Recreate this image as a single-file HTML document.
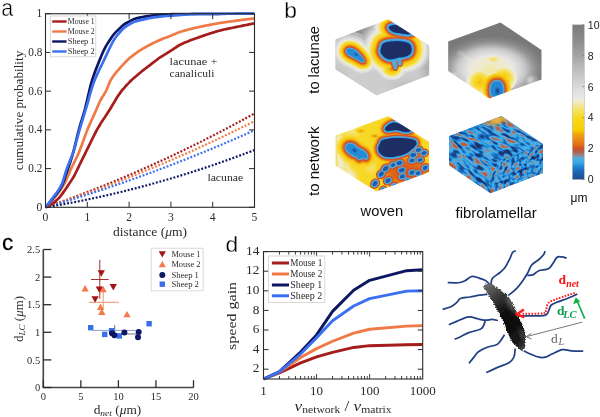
<!DOCTYPE html><html><head><meta charset="utf-8"><style>html,body{margin:0;padding:0;background:#fff;}svg{display:block;}</style></head><body>
<svg width="600" height="417" viewBox="0 0 600 417">
<rect width="600" height="417" fill="#fff"/>
<defs><filter id="soft" x="0" y="0" width="600" height="417" filterUnits="userSpaceOnUse"><feGaussianBlur stdDeviation="0.4"/></filter></defs>
<g filter="url(#soft)">
<clipPath id="clipA"><rect x="45.5" y="12.2" width="209" height="196.6"/></clipPath>
<g clip-path="url(#clipA)" fill="none" stroke-linecap="butt">
<path d="M45.5 207.3 C47.24 206.69 52.47 204.89 55.95 203.66 C59.43 202.43 62.92 201.18 66.4 199.91 C69.88 198.65 73.37 197.36 76.85 196.05 C80.33 194.75 83.82 193.43 87.3 192.08 C90.78 190.74 94.27 189.38 97.75 188 C101.23 186.62 104.72 185.22 108.2 183.81 C111.68 182.39 115.17 180.96 118.65 179.5 C122.13 178.05 125.62 176.58 129.1 175.08 C132.58 173.59 136.07 172.08 139.55 170.56 C143.03 169.03 146.52 167.48 150 165.92 C153.48 164.35 156.97 162.77 160.45 161.17 C163.93 159.57 167.42 157.94 170.9 156.31 C174.38 154.67 177.87 153.01 181.35 151.33 C184.83 149.66 188.32 147.96 191.8 146.25 C195.28 144.53 198.77 142.8 202.25 141.05 C205.73 139.3 209.22 137.53 212.7 135.75 C216.18 133.96 219.67 132.15 223.15 130.33 C226.63 128.5 230.12 126.66 233.6 124.8 C237.08 122.94 240.57 121.06 244.05 119.16 C247.53 117.26 252.76 114.36 254.5 113.4" stroke="#a51c1c" stroke-width="2.2" stroke-dasharray="1.9 1.75"/>
<path d="M45.5 207.3 C47.24 206.73 52.47 205.04 55.95 203.89 C59.43 202.74 62.92 201.57 66.4 200.38 C69.88 199.2 73.37 198 76.85 196.78 C80.33 195.57 83.82 194.34 87.3 193.09 C90.78 191.84 94.27 190.58 97.75 189.3 C101.23 188.02 104.72 186.73 108.2 185.42 C111.68 184.11 115.17 182.78 118.65 181.44 C122.13 180.1 125.62 178.74 129.1 177.37 C132.58 176 136.07 174.61 139.55 173.2 C143.03 171.8 146.52 170.38 150 168.94 C153.48 167.51 156.97 166.06 160.45 164.59 C163.93 163.12 167.42 161.64 170.9 160.14 C174.38 158.64 177.87 157.13 181.35 155.6 C184.83 154.07 188.32 152.52 191.8 150.96 C195.28 149.4 198.77 147.82 202.25 146.23 C205.73 144.63 209.22 143.02 212.7 141.4 C216.18 139.77 219.67 138.13 223.15 136.48 C226.63 134.82 230.12 133.15 233.6 131.46 C237.08 129.77 240.57 128.07 244.05 126.35 C247.53 124.63 252.76 122.02 254.5 121.15" stroke="#f07a45" stroke-width="2.2" stroke-dasharray="1.9 1.75"/>
<path d="M45.5 207.3 C47.24 206.79 52.47 205.27 55.95 204.24 C59.43 203.2 62.92 202.16 66.4 201.09 C69.88 200.03 73.37 198.96 76.85 197.87 C80.33 196.78 83.82 195.67 87.3 194.56 C90.78 193.44 94.27 192.31 97.75 191.16 C101.23 190.02 104.72 188.86 108.2 187.68 C111.68 186.51 115.17 185.33 118.65 184.13 C122.13 182.92 125.62 181.71 129.1 180.48 C132.58 179.25 136.07 178.01 139.55 176.76 C143.03 175.5 146.52 174.23 150 172.95 C153.48 171.66 156.97 170.37 160.45 169.06 C163.93 167.75 167.42 166.42 170.9 165.08 C174.38 163.74 177.87 162.39 181.35 161.02 C184.83 159.66 188.32 158.28 191.8 156.88 C195.28 155.49 198.77 154.08 202.25 152.66 C205.73 151.24 209.22 149.8 212.7 148.35 C216.18 146.9 219.67 145.44 223.15 143.96 C226.63 142.49 230.12 140.99 233.6 139.49 C237.08 137.99 240.57 136.47 244.05 134.93 C247.53 133.4 252.76 131.07 254.5 130.3" stroke="#3a6ff0" stroke-width="2.2" stroke-dasharray="1.9 1.75"/>
<path d="M45.5 207.3 C47.24 207.01 52.47 206.14 55.95 205.53 C59.43 204.93 62.92 204.3 66.4 203.65 C69.88 203.01 73.37 202.34 76.85 201.65 C80.33 200.97 83.82 200.27 87.3 199.54 C90.78 198.82 94.27 198.08 97.75 197.31 C101.23 196.55 104.72 195.77 108.2 194.97 C111.68 194.17 115.17 193.35 118.65 192.51 C122.13 191.67 125.62 190.82 129.1 189.94 C132.58 189.06 136.07 188.16 139.55 187.25 C143.03 186.33 146.52 185.4 150 184.44 C153.48 183.49 156.97 182.52 160.45 181.52 C163.93 180.53 167.42 179.52 170.9 178.49 C174.38 177.46 177.87 176.4 181.35 175.34 C184.83 174.27 188.32 173.18 191.8 172.07 C195.28 170.96 198.77 169.83 202.25 168.69 C205.73 167.54 209.22 166.37 212.7 165.19 C216.18 164 219.67 162.8 223.15 161.57 C226.63 160.35 230.12 159.11 233.6 157.85 C237.08 156.58 240.57 155.3 244.05 154 C247.53 152.7 252.76 150.7 254.5 150.04" stroke="#0c1660" stroke-width="2.2" stroke-dasharray="1.9 1.75"/>
<path d="M45.5 207.3 C45.85 207.15 46.89 206.75 47.59 206.42 C48.29 206.09 48.98 205.71 49.68 205.32 C50.38 204.93 51.07 204.51 51.77 204.06 C52.47 203.6 53.16 203.12 53.86 202.59 C54.56 202.06 55.25 201.49 55.95 200.87 C56.65 200.26 57.34 199.62 58.04 198.91 C58.74 198.2 59.43 197.44 60.13 196.6 C60.83 195.75 61.52 194.79 62.22 193.85 C62.92 192.9 63.61 191.92 64.31 190.94 C65.01 189.96 65.7 188.97 66.4 187.95 C67.1 186.93 67.79 185.87 68.49 184.81 C69.19 183.76 69.88 182.7 70.58 181.63 C71.28 180.56 71.97 179.53 72.67 178.39 C73.37 177.24 74.06 176.09 74.76 174.78 C75.46 173.47 76.15 171.96 76.85 170.52 C77.55 169.08 78.24 167.59 78.94 166.15 C79.64 164.72 80.33 163.31 81.03 161.89 C81.73 160.46 82.42 159.04 83.12 157.62 C83.82 156.2 84.51 154.78 85.21 153.37 C85.91 151.96 86.6 150.56 87.3 149.15 C88 147.73 88.69 146.31 89.39 144.88 C90.09 143.45 90.78 142 91.48 140.57 C92.18 139.14 92.87 137.71 93.57 136.32 C94.27 134.93 94.96 133.56 95.66 132.25 C96.36 130.93 97.05 129.67 97.75 128.45 C98.45 127.23 99.14 126.07 99.84 124.93 C100.54 123.79 101.23 122.69 101.93 121.6 C102.63 120.51 103.32 119.45 104.02 118.39 C104.72 117.33 105.41 116.28 106.11 115.23 C106.81 114.17 107.5 113.12 108.2 112.04 C108.9 110.96 109.59 109.89 110.29 108.76 C110.99 107.64 111.68 106.47 112.38 105.3 C113.08 104.13 113.77 102.91 114.47 101.73 C115.17 100.56 115.86 99.36 116.56 98.24 C117.26 97.11 117.95 95.99 118.65 94.96 C119.35 93.94 120.04 92.99 120.74 92.07 C121.44 91.16 122.13 90.31 122.83 89.47 C123.53 88.63 124.22 87.83 124.92 87.05 C125.62 86.27 126.31 85.52 127.01 84.78 C127.71 84.04 128.4 83.33 129.1 82.62 C129.8 81.92 130.49 81.23 131.19 80.55 C131.89 79.88 132.58 79.23 133.28 78.6 C133.98 77.96 134.67 77.35 135.37 76.74 C136.07 76.13 136.76 75.54 137.46 74.95 C138.16 74.36 138.85 73.78 139.55 73.2 C140.25 72.63 140.94 72.05 141.64 71.49 C142.34 70.93 143.03 70.38 143.73 69.83 C144.43 69.29 145.12 68.75 145.82 68.21 C146.52 67.68 147.21 67.15 147.91 66.62 C148.61 66.09 149.3 65.56 150 65.03 C150.7 64.5 151.39 63.96 152.09 63.42 C152.79 62.89 153.48 62.35 154.18 61.81 C154.88 61.28 155.57 60.75 156.27 60.23 C156.97 59.71 157.66 59.2 158.36 58.7 C159.06 58.2 159.75 57.71 160.45 57.24 C161.15 56.77 161.84 56.32 162.54 55.87 C163.24 55.42 163.93 54.99 164.63 54.56 C165.33 54.13 166.02 53.71 166.72 53.28 C167.42 52.85 168.11 52.43 168.81 52 C169.51 51.57 170.2 51.15 170.9 50.7 C171.6 50.25 172.29 49.79 172.99 49.32 C173.69 48.86 174.38 48.36 175.08 47.9 C175.78 47.43 176.47 46.95 177.17 46.51 C177.87 46.07 178.56 45.65 179.26 45.26 C179.96 44.88 180.65 44.54 181.35 44.2 C182.05 43.86 182.74 43.54 183.44 43.22 C184.14 42.91 184.83 42.6 185.53 42.31 C186.23 42.01 186.92 41.72 187.62 41.44 C188.32 41.16 189.01 40.89 189.71 40.62 C190.41 40.35 191.1 40.09 191.8 39.84 C192.5 39.58 193.19 39.33 193.89 39.07 C194.59 38.82 195.28 38.58 195.98 38.33 C196.68 38.08 197.37 37.84 198.07 37.6 C198.77 37.35 199.46 37.1 200.16 36.86 C200.86 36.61 201.55 36.37 202.25 36.12 C202.95 35.88 203.64 35.63 204.34 35.39 C205.04 35.15 205.73 34.91 206.43 34.67 C207.13 34.44 207.82 34.2 208.52 33.97 C209.22 33.74 209.91 33.51 210.61 33.28 C211.31 33.06 212 32.84 212.7 32.62 C213.4 32.41 214.09 32.19 214.79 31.99 C215.49 31.78 216.18 31.58 216.88 31.38 C217.58 31.18 218.27 30.99 218.97 30.81 C219.67 30.63 220.36 30.45 221.06 30.28 C221.76 30.1 222.45 29.94 223.15 29.77 C223.85 29.61 224.54 29.45 225.24 29.29 C225.94 29.14 226.63 28.99 227.33 28.84 C228.03 28.69 228.72 28.54 229.42 28.4 C230.12 28.25 230.81 28.11 231.51 27.97 C232.21 27.83 232.9 27.69 233.6 27.55 C234.3 27.41 234.99 27.27 235.69 27.13 C236.39 26.99 237.08 26.85 237.78 26.71 C238.48 26.57 239.17 26.43 239.87 26.28 C240.57 26.14 241.26 26 241.96 25.86 C242.66 25.71 243.35 25.57 244.05 25.43 C244.75 25.29 245.44 25.15 246.14 25.01 C246.84 24.87 247.53 24.74 248.23 24.6 C248.93 24.46 249.62 24.33 250.32 24.19 C251.02 24.05 251.71 23.92 252.41 23.78 C253.11 23.65 254.15 23.45 254.5 23.38" stroke="#a51c1c" stroke-width="2.7" stroke-linejoin="round"/>
<path d="M45.5 207.3 C45.85 206.97 46.89 206.01 47.59 205.32 C48.29 204.63 48.98 203.92 49.68 203.18 C50.38 202.44 51.07 201.67 51.77 200.89 C52.47 200.1 53.16 199.29 53.86 198.46 C54.56 197.63 55.25 196.79 55.95 195.93 C56.65 195.07 57.34 194.2 58.04 193.29 C58.74 192.38 59.43 191.46 60.13 190.47 C60.83 189.49 61.52 188.47 62.22 187.38 C62.92 186.29 63.61 185.21 64.31 183.92 C65.01 182.64 65.7 181.19 66.4 179.66 C67.1 178.12 67.79 176.34 68.49 174.71 C69.19 173.08 69.88 171.4 70.58 169.86 C71.28 168.33 71.97 166.92 72.67 165.49 C73.37 164.06 74.06 162.7 74.76 161.29 C75.46 159.87 76.15 158.48 76.85 157 C77.55 155.51 78.24 154.03 78.94 152.37 C79.64 150.72 80.33 148.95 81.03 147.1 C81.73 145.24 82.42 143.21 83.12 141.26 C83.82 139.31 84.51 137.27 85.21 135.39 C85.91 133.51 86.6 131.71 87.3 130 C88 128.28 88.69 126.69 89.39 125.1 C90.09 123.51 90.78 121.98 91.48 120.44 C92.18 118.89 92.87 117.39 93.57 115.84 C94.27 114.3 94.96 112.77 95.66 111.16 C96.36 109.55 97.05 107.8 97.75 106.19 C98.45 104.59 99.14 102.92 99.84 101.52 C100.54 100.11 101.23 98.94 101.93 97.76 C102.63 96.59 103.32 95.62 104.02 94.47 C104.72 93.33 105.41 92.31 106.11 90.89 C106.81 89.47 107.5 87.61 108.2 85.95 C108.9 84.29 109.59 82.35 110.29 80.94 C110.99 79.52 111.68 78.55 112.38 77.49 C113.08 76.42 113.77 75.47 114.47 74.55 C115.17 73.63 115.86 72.8 116.56 71.97 C117.26 71.13 117.95 70.36 118.65 69.56 C119.35 68.75 120.04 67.95 120.74 67.16 C121.44 66.37 122.13 65.58 122.83 64.82 C123.53 64.06 124.22 63.31 124.92 62.59 C125.62 61.86 126.31 61.16 127.01 60.49 C127.71 59.81 128.4 59.16 129.1 58.53 C129.8 57.91 130.49 57.32 131.19 56.75 C131.89 56.17 132.58 55.63 133.28 55.09 C133.98 54.56 134.67 54.05 135.37 53.55 C136.07 53.05 136.76 52.57 137.46 52.1 C138.16 51.63 138.85 51.18 139.55 50.73 C140.25 50.28 140.94 49.85 141.64 49.42 C142.34 49 143.03 48.59 143.73 48.19 C144.43 47.78 145.12 47.39 145.82 47.01 C146.52 46.62 147.21 46.25 147.91 45.88 C148.61 45.5 149.3 45.14 150 44.77 C150.7 44.41 151.39 44.05 152.09 43.69 C152.79 43.34 153.48 42.98 154.18 42.64 C154.88 42.29 155.57 41.95 156.27 41.62 C156.97 41.29 157.66 40.96 158.36 40.65 C159.06 40.33 159.75 40.03 160.45 39.73 C161.15 39.43 161.84 39.15 162.54 38.88 C163.24 38.6 163.93 38.33 164.63 38.07 C165.33 37.81 166.02 37.55 166.72 37.29 C167.42 37.03 168.11 36.77 168.81 36.51 C169.51 36.24 170.2 35.98 170.9 35.7 C171.6 35.42 172.29 35.13 172.99 34.83 C173.69 34.54 174.38 34.23 175.08 33.93 C175.78 33.64 176.47 33.33 177.17 33.05 C177.87 32.77 178.56 32.5 179.26 32.26 C179.96 32.01 180.65 31.79 181.35 31.57 C182.05 31.35 182.74 31.14 183.44 30.93 C184.14 30.72 184.83 30.52 185.53 30.33 C186.23 30.13 186.92 29.94 187.62 29.75 C188.32 29.57 189.01 29.39 189.71 29.21 C190.41 29.03 191.1 28.86 191.8 28.69 C192.5 28.51 193.19 28.35 193.89 28.18 C194.59 28.02 195.28 27.86 195.98 27.7 C196.68 27.54 197.37 27.38 198.07 27.23 C198.77 27.07 199.46 26.92 200.16 26.77 C200.86 26.62 201.55 26.47 202.25 26.32 C202.95 26.17 203.64 26.03 204.34 25.88 C205.04 25.74 205.73 25.6 206.43 25.46 C207.13 25.33 207.82 25.19 208.52 25.06 C209.22 24.92 209.91 24.79 210.61 24.66 C211.31 24.53 212 24.4 212.7 24.28 C213.4 24.15 214.09 24.03 214.79 23.91 C215.49 23.79 216.18 23.67 216.88 23.55 C217.58 23.43 218.27 23.32 218.97 23.2 C219.67 23.09 220.36 22.98 221.06 22.87 C221.76 22.76 222.45 22.65 223.15 22.54 C223.85 22.44 224.54 22.33 225.24 22.23 C225.94 22.13 226.63 22.03 227.33 21.93 C228.03 21.83 228.72 21.74 229.42 21.64 C230.12 21.54 230.81 21.45 231.51 21.35 C232.21 21.26 232.9 21.17 233.6 21.07 C234.3 20.98 234.99 20.89 235.69 20.79 C236.39 20.7 237.08 20.61 237.78 20.51 C238.48 20.42 239.17 20.33 239.87 20.23 C240.57 20.14 241.26 20.05 241.96 19.95 C242.66 19.86 243.35 19.77 244.05 19.68 C244.75 19.59 245.44 19.5 246.14 19.41 C246.84 19.32 247.53 19.23 248.23 19.14 C248.93 19.05 249.62 18.96 250.32 18.87 C251.02 18.78 251.71 18.69 252.41 18.61 C253.11 18.52 254.15 18.39 254.5 18.35" stroke="#f07a45" stroke-width="2.7" stroke-linejoin="round"/>
<path d="M45.5 207.3 C45.85 206.91 46.89 205.75 47.59 204.95 C48.29 204.14 48.98 203.32 49.68 202.48 C50.38 201.64 51.07 200.77 51.77 199.9 C52.47 199.03 53.16 198.12 53.86 197.25 C54.56 196.38 55.25 195.56 55.95 194.68 C56.65 193.8 57.34 192.93 58.04 191.96 C58.74 190.99 59.43 189.99 60.13 188.84 C60.83 187.68 61.52 186.56 62.22 185.03 C62.92 183.5 63.61 181.61 64.31 179.67 C65.01 177.72 65.7 175.44 66.4 173.37 C67.1 171.3 67.79 169.29 68.49 167.24 C69.19 165.18 69.88 163.18 70.58 161.04 C71.28 158.89 71.97 156.76 72.67 154.35 C73.37 151.95 74.06 149.37 74.76 146.61 C75.46 143.84 76.15 140.6 76.85 137.74 C77.55 134.89 78.24 132.05 78.94 129.49 C79.64 126.94 80.33 124.72 81.03 122.4 C81.73 120.08 82.42 117.95 83.12 115.59 C83.82 113.23 84.51 110.91 85.21 108.24 C85.91 105.57 86.6 102.53 87.3 99.57 C88 96.61 88.69 93.33 89.39 90.48 C90.09 87.63 90.78 84.9 91.48 82.48 C92.18 80.05 92.87 78 93.57 75.93 C94.27 73.87 94.96 71.95 95.66 70.07 C96.36 68.19 97.05 66.42 97.75 64.65 C98.45 62.89 99.14 61.16 99.84 59.47 C100.54 57.77 101.23 56.07 101.93 54.47 C102.63 52.87 103.32 51.3 104.02 49.88 C104.72 48.45 105.41 47.14 106.11 45.91 C106.81 44.69 107.5 43.62 108.2 42.53 C108.9 41.44 109.59 40.42 110.29 39.37 C110.99 38.32 111.68 37.2 112.38 36.22 C113.08 35.25 113.77 34.33 114.47 33.52 C115.17 32.71 115.86 32.04 116.56 31.36 C117.26 30.67 117.95 30.07 118.65 29.41 C119.35 28.75 120.04 28.07 120.74 27.4 C121.44 26.74 122.13 26 122.83 25.42 C123.53 24.84 124.22 24.37 124.92 23.92 C125.62 23.47 126.31 23.12 127.01 22.73 C127.71 22.35 128.4 22 129.1 21.61 C129.8 21.23 130.49 20.78 131.19 20.41 C131.89 20.05 132.58 19.69 133.28 19.41 C133.98 19.13 134.67 18.93 135.37 18.72 C136.07 18.51 136.76 18.33 137.46 18.15 C138.16 17.97 138.85 17.81 139.55 17.65 C140.25 17.5 140.94 17.36 141.64 17.21 C142.34 17.07 143.03 16.94 143.73 16.8 C144.43 16.67 145.12 16.54 145.82 16.41 C146.52 16.29 147.21 16.17 147.91 16.05 C148.61 15.94 149.3 15.83 150 15.74 C150.7 15.65 151.39 15.56 152.09 15.49 C152.79 15.41 153.48 15.35 154.18 15.28 C154.88 15.21 155.57 15.15 156.27 15.08 C156.97 15.02 157.66 14.96 158.36 14.9 C159.06 14.84 159.75 14.78 160.45 14.72 C161.15 14.67 161.84 14.62 162.54 14.57 C163.24 14.52 163.93 14.48 164.63 14.44 C165.33 14.4 166.02 14.36 166.72 14.33 C167.42 14.3 168.11 14.27 168.81 14.25 C169.51 14.23 170.2 14.22 170.9 14.21 C171.6 14.2 172.29 14.19 172.99 14.18 C173.69 14.17 174.38 14.16 175.08 14.15 C175.78 14.14 176.47 14.14 177.17 14.13 C177.87 14.12 178.56 14.11 179.26 14.1 C179.96 14.09 180.65 14.09 181.35 14.08 C182.05 14.07 182.74 14.06 183.44 14.05 C184.14 14.05 184.83 14.04 185.53 14.03 C186.23 14.02 186.92 14.02 187.62 14.01 C188.32 14 189.01 14 189.71 13.99 C190.41 13.98 191.1 13.98 191.8 13.97 C192.5 13.96 193.19 13.96 193.89 13.95 C194.59 13.94 195.28 13.94 195.98 13.93 C196.68 13.93 197.37 13.92 198.07 13.91 C198.77 13.91 199.46 13.9 200.16 13.9 C200.86 13.89 201.55 13.89 202.25 13.88 C202.95 13.88 203.64 13.87 204.34 13.87 C205.04 13.86 205.73 13.86 206.43 13.85 C207.13 13.85 207.82 13.84 208.52 13.84 C209.22 13.83 209.91 13.83 210.61 13.82 C211.31 13.82 212 13.82 212.7 13.81 C213.4 13.81 214.09 13.8 214.79 13.8 C215.49 13.8 216.18 13.79 216.88 13.79 C217.58 13.79 218.27 13.78 218.97 13.78 C219.67 13.78 220.36 13.77 221.06 13.77 C221.76 13.77 222.45 13.76 223.15 13.76 C223.85 13.76 224.54 13.76 225.24 13.75 C225.94 13.75 226.63 13.75 227.33 13.75 C228.03 13.74 228.72 13.74 229.42 13.74 C230.12 13.74 230.81 13.73 231.51 13.73 C232.21 13.73 232.9 13.73 233.6 13.73 C234.3 13.72 234.99 13.72 235.69 13.72 C236.39 13.72 237.08 13.72 237.78 13.72 C238.48 13.72 239.17 13.71 239.87 13.71 C240.57 13.71 241.26 13.71 241.96 13.71 C242.66 13.71 243.35 13.71 244.05 13.71 C244.75 13.71 245.44 13.7 246.14 13.7 C246.84 13.7 247.53 13.7 248.23 13.7 C248.93 13.7 249.62 13.7 250.32 13.7 C251.02 13.7 251.71 13.7 252.41 13.7 C253.11 13.7 254.15 13.7 254.5 13.7" stroke="#0c1660" stroke-width="2.7" stroke-linejoin="round"/>
<path d="M45.5 207.3 C45.85 206.87 46.89 205.58 47.59 204.69 C48.29 203.8 48.98 202.9 49.68 201.98 C50.38 201.06 51.07 200.11 51.77 199.16 C52.47 198.22 53.16 197.24 53.86 196.32 C54.56 195.39 55.25 194.53 55.95 193.6 C56.65 192.68 57.34 191.78 58.04 190.75 C58.74 189.72 59.43 188.68 60.13 187.43 C60.83 186.18 61.52 185.03 62.22 183.25 C62.92 181.48 63.61 178.99 64.31 176.77 C65.01 174.55 65.7 171.97 66.4 169.91 C67.1 167.85 67.79 166.18 68.49 164.41 C69.19 162.65 69.88 161.07 70.58 159.32 C71.28 157.56 71.97 155.87 72.67 153.86 C73.37 151.85 74.06 149.64 74.76 147.26 C75.46 144.89 76.15 142.15 76.85 139.59 C77.55 137.02 78.24 134.35 78.94 131.89 C79.64 129.43 80.33 127.14 81.03 124.82 C81.73 122.49 82.42 120.23 83.12 117.95 C83.82 115.66 84.51 113.42 85.21 111.1 C85.91 108.78 86.6 106.42 87.3 104 C88 101.58 88.69 99.01 89.39 96.57 C90.09 94.13 90.78 91.63 91.48 89.38 C92.18 87.13 92.87 84.98 93.57 83.04 C94.27 81.11 94.96 79.43 95.66 77.77 C96.36 76.11 97.05 74.6 97.75 73.09 C98.45 71.59 99.14 70.19 99.84 68.76 C100.54 67.33 101.23 65.95 101.93 64.51 C102.63 63.07 103.32 61.6 104.02 60.11 C104.72 58.62 105.41 57.08 106.11 55.59 C106.81 54.09 107.5 52.58 108.2 51.13 C108.9 49.67 109.59 48.26 110.29 46.85 C110.99 45.44 111.68 43.95 112.38 42.66 C113.08 41.36 113.77 40.15 114.47 39.08 C115.17 38.01 115.86 37.12 116.56 36.22 C117.26 35.32 117.95 34.52 118.65 33.7 C119.35 32.87 120.04 32.04 120.74 31.26 C121.44 30.47 122.13 29.65 122.83 28.98 C123.53 28.31 124.22 27.77 124.92 27.24 C125.62 26.72 126.31 26.29 127.01 25.85 C127.71 25.41 128.4 25.01 129.1 24.59 C129.8 24.17 130.49 23.71 131.19 23.33 C131.89 22.94 132.58 22.59 133.28 22.29 C133.98 22 134.67 21.78 135.37 21.56 C136.07 21.34 136.76 21.15 137.46 20.96 C138.16 20.77 138.85 20.6 139.55 20.43 C140.25 20.26 140.94 20.1 141.64 19.93 C142.34 19.76 143.03 19.59 143.73 19.42 C144.43 19.25 145.12 19.07 145.82 18.9 C146.52 18.73 147.21 18.56 147.91 18.4 C148.61 18.24 149.3 18.09 150 17.95 C150.7 17.82 151.39 17.69 152.09 17.58 C152.79 17.48 153.48 17.39 154.18 17.3 C154.88 17.21 155.57 17.12 156.27 17.04 C156.97 16.95 157.66 16.88 158.36 16.8 C159.06 16.72 159.75 16.65 160.45 16.58 C161.15 16.51 161.84 16.44 162.54 16.38 C163.24 16.31 163.93 16.25 164.63 16.19 C165.33 16.13 166.02 16.07 166.72 16.02 C167.42 15.96 168.11 15.9 168.81 15.85 C169.51 15.79 170.2 15.74 170.9 15.69 C171.6 15.63 172.29 15.58 172.99 15.53 C173.69 15.48 174.38 15.42 175.08 15.37 C175.78 15.32 176.47 15.26 177.17 15.21 C177.87 15.15 178.56 15.09 179.26 15.04 C179.96 14.98 180.65 14.92 181.35 14.86 C182.05 14.81 182.74 14.75 183.44 14.7 C184.14 14.64 184.83 14.59 185.53 14.54 C186.23 14.49 186.92 14.44 187.62 14.39 C188.32 14.35 189.01 14.3 189.71 14.26 C190.41 14.22 191.1 14.19 191.8 14.16 C192.5 14.13 193.19 14.1 193.89 14.08 C194.59 14.06 195.28 14.05 195.98 14.04 C196.68 14.03 197.37 14.02 198.07 14.01 C198.77 14.01 199.46 14 200.16 13.99 C200.86 13.98 201.55 13.97 202.25 13.97 C202.95 13.96 203.64 13.95 204.34 13.94 C205.04 13.94 205.73 13.93 206.43 13.92 C207.13 13.92 207.82 13.91 208.52 13.9 C209.22 13.9 209.91 13.89 210.61 13.89 C211.31 13.88 212 13.87 212.7 13.87 C213.4 13.86 214.09 13.86 214.79 13.85 C215.49 13.84 216.18 13.84 216.88 13.83 C217.58 13.83 218.27 13.82 218.97 13.82 C219.67 13.81 220.36 13.81 221.06 13.81 C221.76 13.8 222.45 13.8 223.15 13.79 C223.85 13.79 224.54 13.78 225.24 13.78 C225.94 13.78 226.63 13.77 227.33 13.77 C228.03 13.77 228.72 13.76 229.42 13.76 C230.12 13.75 230.81 13.75 231.51 13.75 C232.21 13.75 232.9 13.74 233.6 13.74 C234.3 13.74 234.99 13.73 235.69 13.73 C236.39 13.73 237.08 13.73 237.78 13.73 C238.48 13.72 239.17 13.72 239.87 13.72 C240.57 13.72 241.26 13.72 241.96 13.71 C242.66 13.71 243.35 13.71 244.05 13.71 C244.75 13.71 245.44 13.71 246.14 13.71 C246.84 13.71 247.53 13.7 248.23 13.7 C248.93 13.7 249.62 13.7 250.32 13.7 C251.02 13.7 251.71 13.7 252.41 13.7 C253.11 13.7 254.15 13.7 254.5 13.7" stroke="#3a6ff0" stroke-width="2.7" stroke-linejoin="round"/>
</g>
<rect x="45.5" y="13.7" width="209" height="193.6" fill="none" stroke="#2b2b2b" stroke-width="1.1"/>
<line x1="45.5" y1="207.3" x2="45.5" y2="201.8" stroke="#2b2b2b" stroke-width="1"/>
<line x1="45.5" y1="13.7" x2="45.5" y2="19.2" stroke="#2b2b2b" stroke-width="1"/>
<text x="45.5" y="220.8" font-size="11.6" text-anchor="middle" fill="#2b2b2b" font-family="'Liberation Serif', serif" >0</text>
<line x1="87.3" y1="207.3" x2="87.3" y2="201.8" stroke="#2b2b2b" stroke-width="1"/>
<line x1="87.3" y1="13.7" x2="87.3" y2="19.2" stroke="#2b2b2b" stroke-width="1"/>
<text x="87.3" y="220.8" font-size="11.6" text-anchor="middle" fill="#2b2b2b" font-family="'Liberation Serif', serif" >1</text>
<line x1="129.1" y1="207.3" x2="129.1" y2="201.8" stroke="#2b2b2b" stroke-width="1"/>
<line x1="129.1" y1="13.7" x2="129.1" y2="19.2" stroke="#2b2b2b" stroke-width="1"/>
<text x="129.1" y="220.8" font-size="11.6" text-anchor="middle" fill="#2b2b2b" font-family="'Liberation Serif', serif" >2</text>
<line x1="170.9" y1="207.3" x2="170.9" y2="201.8" stroke="#2b2b2b" stroke-width="1"/>
<line x1="170.9" y1="13.7" x2="170.9" y2="19.2" stroke="#2b2b2b" stroke-width="1"/>
<text x="170.9" y="220.8" font-size="11.6" text-anchor="middle" fill="#2b2b2b" font-family="'Liberation Serif', serif" >3</text>
<line x1="212.7" y1="207.3" x2="212.7" y2="201.8" stroke="#2b2b2b" stroke-width="1"/>
<line x1="212.7" y1="13.7" x2="212.7" y2="19.2" stroke="#2b2b2b" stroke-width="1"/>
<text x="212.7" y="220.8" font-size="11.6" text-anchor="middle" fill="#2b2b2b" font-family="'Liberation Serif', serif" >4</text>
<line x1="254.5" y1="207.3" x2="254.5" y2="201.8" stroke="#2b2b2b" stroke-width="1"/>
<line x1="254.5" y1="13.7" x2="254.5" y2="19.2" stroke="#2b2b2b" stroke-width="1"/>
<text x="254.5" y="220.8" font-size="11.6" text-anchor="middle" fill="#2b2b2b" font-family="'Liberation Serif', serif" >5</text>
<line x1="45.5" y1="207.3" x2="51" y2="207.3" stroke="#2b2b2b" stroke-width="1"/>
<line x1="254.5" y1="207.3" x2="249" y2="207.3" stroke="#2b2b2b" stroke-width="1"/>
<text x="42.3" y="210.8" font-size="11.6" text-anchor="end" fill="#2b2b2b" font-family="'Liberation Serif', serif" >0</text>
<line x1="45.5" y1="168.58" x2="51" y2="168.58" stroke="#2b2b2b" stroke-width="1"/>
<line x1="254.5" y1="168.58" x2="249" y2="168.58" stroke="#2b2b2b" stroke-width="1"/>
<text x="42.3" y="172.08" font-size="11.6" text-anchor="end" fill="#2b2b2b" font-family="'Liberation Serif', serif" textLength="14" lengthAdjust="spacingAndGlyphs" >0.2</text>
<line x1="45.5" y1="129.86" x2="51" y2="129.86" stroke="#2b2b2b" stroke-width="1"/>
<line x1="254.5" y1="129.86" x2="249" y2="129.86" stroke="#2b2b2b" stroke-width="1"/>
<text x="42.3" y="133.36" font-size="11.6" text-anchor="end" fill="#2b2b2b" font-family="'Liberation Serif', serif" textLength="14" lengthAdjust="spacingAndGlyphs" >0.4</text>
<line x1="45.5" y1="91.14" x2="51" y2="91.14" stroke="#2b2b2b" stroke-width="1"/>
<line x1="254.5" y1="91.14" x2="249" y2="91.14" stroke="#2b2b2b" stroke-width="1"/>
<text x="42.3" y="94.64" font-size="11.6" text-anchor="end" fill="#2b2b2b" font-family="'Liberation Serif', serif" textLength="14" lengthAdjust="spacingAndGlyphs" >0.6</text>
<line x1="45.5" y1="52.42" x2="51" y2="52.42" stroke="#2b2b2b" stroke-width="1"/>
<line x1="254.5" y1="52.42" x2="249" y2="52.42" stroke="#2b2b2b" stroke-width="1"/>
<text x="42.3" y="55.92" font-size="11.6" text-anchor="end" fill="#2b2b2b" font-family="'Liberation Serif', serif" textLength="14" lengthAdjust="spacingAndGlyphs" >0.8</text>
<line x1="45.5" y1="13.7" x2="51" y2="13.7" stroke="#2b2b2b" stroke-width="1"/>
<line x1="254.5" y1="13.7" x2="249" y2="13.7" stroke="#2b2b2b" stroke-width="1"/>
<text x="42.3" y="17.2" font-size="11.6" text-anchor="end" fill="#2b2b2b" font-family="'Liberation Serif', serif" >1</text>
<text x="150" y="235.5" font-size="13" text-anchor="middle" fill="#2b2b2b" font-family="'Liberation Serif', serif" textLength="74" lengthAdjust="spacingAndGlyphs" >distance (<tspan font-style="italic">μ</tspan>m)</text>
<g transform="translate(22.9 110.5) rotate(-90)"><text x="0" y="0" font-size="12.5" text-anchor="middle" fill="#2b2b2b" font-family="'Liberation Serif', serif" textLength="119.4" lengthAdjust="spacingAndGlyphs" >cumulative probability</text></g>
<text x="169.6" y="64.6" font-size="10.6" text-anchor="start" fill="#2b2b2b" font-family="'Liberation Serif', serif" textLength="47.8" lengthAdjust="spacingAndGlyphs" >lacunae +</text>
<text x="169.6" y="77.4" font-size="10.6" text-anchor="start" fill="#2b2b2b" font-family="'Liberation Serif', serif" textLength="44.9" lengthAdjust="spacingAndGlyphs" >canaliculi</text>
<text x="207.4" y="180.9" font-size="10.6" text-anchor="start" fill="#2b2b2b" font-family="'Liberation Serif', serif" textLength="35.9" lengthAdjust="spacingAndGlyphs" >lacunae</text>
<rect x="50.3" y="16" width="45.5" height="40.8" fill="#fff" stroke="#d0d0d0" stroke-width="0.8"/>
<line x1="52.2" y1="21.5" x2="66.6" y2="21.5" stroke="#a51c1c" stroke-width="2.4"/>
<text x="67.8" y="24.3" font-size="8.2" text-anchor="start" fill="#2b2b2b" font-family="'Liberation Serif', serif" textLength="26.8" lengthAdjust="spacingAndGlyphs" >Mouse 1</text>
<line x1="52.2" y1="31.5" x2="66.6" y2="31.5" stroke="#f07a45" stroke-width="2.4"/>
<text x="67.8" y="34.3" font-size="8.2" text-anchor="start" fill="#2b2b2b" font-family="'Liberation Serif', serif" textLength="26.8" lengthAdjust="spacingAndGlyphs" >Mouse 2</text>
<line x1="52.2" y1="41.5" x2="66.6" y2="41.5" stroke="#0c1660" stroke-width="2.4"/>
<text x="67.8" y="44.3" font-size="8.2" text-anchor="start" fill="#2b2b2b" font-family="'Liberation Serif', serif" textLength="26.8" lengthAdjust="spacingAndGlyphs" >Sheep 1</text>
<line x1="52.2" y1="51.5" x2="66.6" y2="51.5" stroke="#3a6ff0" stroke-width="2.4"/>
<text x="67.8" y="54.3" font-size="8.2" text-anchor="start" fill="#2b2b2b" font-family="'Liberation Serif', serif" textLength="26.8" lengthAdjust="spacingAndGlyphs" >Sheep 2</text>
<path d="M43.3 249.5 V387.5 H193.6" fill="none" stroke="#444" stroke-width="1.6"/>
<line x1="43.3" y1="387.5" x2="51.3" y2="387.5" stroke="#2b2b2b" stroke-width="1.3"/>
<text x="40.2" y="391.1" font-size="10.5" text-anchor="end" fill="#2b2b2b" font-family="'Liberation Serif', serif" >0</text>
<line x1="43.3" y1="359.9" x2="51.3" y2="359.9" stroke="#2b2b2b" stroke-width="1.3"/>
<text x="40.2" y="363.5" font-size="10.5" text-anchor="end" fill="#2b2b2b" font-family="'Liberation Serif', serif" >0.5</text>
<line x1="43.3" y1="332.3" x2="51.3" y2="332.3" stroke="#2b2b2b" stroke-width="1.3"/>
<text x="40.2" y="335.9" font-size="10.5" text-anchor="end" fill="#2b2b2b" font-family="'Liberation Serif', serif" >1</text>
<line x1="43.3" y1="304.7" x2="51.3" y2="304.7" stroke="#2b2b2b" stroke-width="1.3"/>
<text x="40.2" y="308.3" font-size="10.5" text-anchor="end" fill="#2b2b2b" font-family="'Liberation Serif', serif" >1.5</text>
<line x1="43.3" y1="277.1" x2="51.3" y2="277.1" stroke="#2b2b2b" stroke-width="1.3"/>
<text x="40.2" y="280.7" font-size="10.5" text-anchor="end" fill="#2b2b2b" font-family="'Liberation Serif', serif" >2</text>
<line x1="43.3" y1="249.5" x2="51.3" y2="249.5" stroke="#2b2b2b" stroke-width="1.3"/>
<text x="40.2" y="253.1" font-size="10.5" text-anchor="end" fill="#2b2b2b" font-family="'Liberation Serif', serif" >2.5</text>
<line x1="43.3" y1="387.5" x2="43.3" y2="380.2" stroke="#2b2b2b" stroke-width="1.3"/>
<text x="43.3" y="400.3" font-size="10.5" text-anchor="middle" fill="#2b2b2b" font-family="'Liberation Serif', serif" >0</text>
<line x1="80.85" y1="387.5" x2="80.85" y2="380.2" stroke="#2b2b2b" stroke-width="1.3"/>
<text x="80.85" y="400.3" font-size="10.5" text-anchor="middle" fill="#2b2b2b" font-family="'Liberation Serif', serif" >5</text>
<line x1="118.4" y1="387.5" x2="118.4" y2="380.2" stroke="#2b2b2b" stroke-width="1.3"/>
<text x="118.4" y="400.3" font-size="10.5" text-anchor="middle" fill="#2b2b2b" font-family="'Liberation Serif', serif" >10</text>
<line x1="155.95" y1="387.5" x2="155.95" y2="380.2" stroke="#2b2b2b" stroke-width="1.3"/>
<text x="155.95" y="400.3" font-size="10.5" text-anchor="middle" fill="#2b2b2b" font-family="'Liberation Serif', serif" >15</text>
<line x1="193.5" y1="387.5" x2="193.5" y2="380.2" stroke="#2b2b2b" stroke-width="1.3"/>
<text x="193.5" y="400.3" font-size="10.5" text-anchor="middle" fill="#2b2b2b" font-family="'Liberation Serif', serif" >20</text>
<text x="117.5" y="413.5" font-size="12" text-anchor="middle" fill="#2b2b2b" font-family="'Liberation Serif', serif" textLength="47.6" lengthAdjust="spacingAndGlyphs" >d<tspan font-size="8.5" font-style="italic" dy="2">net</tspan><tspan dy="-2"> (</tspan><tspan font-style="italic">μ</tspan>m)</text>
<g transform="translate(22.8 319) rotate(-90)"><text x="0" y="0" font-size="12" text-anchor="middle" fill="#2b2b2b" font-family="'Liberation Serif', serif" textLength="46" lengthAdjust="spacingAndGlyphs" >d<tspan font-size="8.5" font-style="italic" dy="2">LC</tspan><tspan dy="-2"> (</tspan><tspan font-style="italic">μ</tspan>m)</text></g>
<g stroke-width="1" fill="none">
<path d="M99.8 259.7 V298.7 M91 279.5 H108.6" stroke="#a03030"/>
<path d="M103.2 290 V309.6 M88.8 302.3 H119" stroke="#f0956a"/>
<path d="M92.7 330.4 H136" stroke="#8aa0c8"/>
<path d="M114.7 334 H137.3 M114.7 325 V334.7" stroke="#6a7090"/>
</g>
<rect x="88" y="325" width="5.4" height="5.4" fill="#3a6ee8"/>
<rect x="102" y="331.7" width="5.4" height="5.4" fill="#3a6ee8"/>
<rect x="108.9" y="328" width="5.4" height="5.4" fill="#3a6ee8"/>
<rect x="116.6" y="333.3" width="5.4" height="5.4" fill="#3a6ee8"/>
<rect x="146.4" y="321" width="5.4" height="5.4" fill="#3a6ee8"/>
<circle cx="112" cy="333.3" r="3" fill="#0c1464"/>
<circle cx="114.4" cy="335.3" r="3" fill="#0c1464"/>
<circle cx="124.4" cy="332.4" r="3" fill="#0c1464"/>
<circle cx="138.7" cy="332" r="3" fill="#0c1464"/>
<circle cx="138" cy="337.3" r="3" fill="#0c1464"/>
<polygon points="81.45,291.5 88.75,291.5 85.1,285.1" fill="#f47a48"/>
<polygon points="99.55,292.3 106.85,292.3 103.2,285.9" fill="#f47a48"/>
<polygon points="96.85,309.9 104.15,309.9 100.5,303.5" fill="#f47a48"/>
<polygon points="98.15,314.9 105.45,314.9 101.8,308.5" fill="#f47a48"/>
<polygon points="123.35,317.3 130.65,317.3 127,310.9" fill="#f47a48"/>
<polygon points="97.65,270.3 104.95,270.3 101.3,276.7" fill="#a01616"/>
<polygon points="109.65,284 116.95,284 113.3,290.4" fill="#a01616"/>
<polygon points="95.65,286.4 102.95,286.4 99.3,292.8" fill="#a01616"/>
<polygon points="91.45,296.3 98.75,296.3 95.1,302.7" fill="#a01616"/>
<rect x="151.2" y="248.2" width="51.9" height="42.6" fill="#fff" stroke="#d0d0d0" stroke-width="0.8"/>
<polygon points="158.7,251.3 165.9,251.3 162.3,257.5" fill="#a01616"/>
<polygon points="158.7,267.3 165.9,267.3 162.3,261.1" fill="#f47a48"/>
<circle cx="162.3" cy="275" r="3" fill="#0c1464"/>
<rect x="159.6" y="281.5" width="5.4" height="5.4" fill="#3a6ee8"/>
<text x="171.4" y="257.4" font-size="9" text-anchor="start" fill="#2b2b2b" font-family="'Liberation Serif', serif" textLength="29.1" lengthAdjust="spacingAndGlyphs" >Mouse 1</text>
<text x="171.4" y="267.2" font-size="9" text-anchor="start" fill="#2b2b2b" font-family="'Liberation Serif', serif" textLength="29.1" lengthAdjust="spacingAndGlyphs" >Mouse 2</text>
<text x="171.4" y="278" font-size="9" text-anchor="start" fill="#2b2b2b" font-family="'Liberation Serif', serif" textLength="27.5" lengthAdjust="spacingAndGlyphs" >Sheep 1</text>
<text x="171.4" y="287.2" font-size="9" text-anchor="start" fill="#2b2b2b" font-family="'Liberation Serif', serif" textLength="27.5" lengthAdjust="spacingAndGlyphs" >Sheep 2</text>
<clipPath id="clipD"><rect x="263.5" y="251.6" width="159.2" height="129.4"/></clipPath>
<g clip-path="url(#clipD)" fill="none" stroke-width="2.9" stroke-linejoin="round">
<path d="M263.5 379 L279.47 372.92 L300.59 362.83 L316.57 356.95 L332.54 352.34 L353.66 347.44 L369.63 345.68 L406.73 344.7 L422.7 344.5" stroke="#a51c1c"/>
<path d="M263.5 379 L279.47 372.14 L300.59 357.44 L316.57 348.62 L332.54 341.27 L353.66 333.14 L369.63 329.22 L406.73 326.08 L422.7 325.59" stroke="#f07a45"/>
<path d="M263.5 379 L279.47 371.65 L300.59 352.05 L316.57 334.9 L332.54 311.38 L353.66 290.31 L369.63 280.31 L406.73 270.71 L422.7 269.73" stroke="#0c1660"/>
<path d="M263.5 379 L279.47 371.94 L300.59 354.01 L316.57 337.84 L332.54 320.69 L353.66 305.99 L369.63 298.64 L406.73 291.09 L422.7 290.8" stroke="#3a6ff0"/>
</g>
<rect x="263.5" y="251.6" width="159.2" height="127.4" fill="none" stroke="#2b2b2b" stroke-width="1.1"/>
<line x1="263.5" y1="369.2" x2="268.5" y2="369.2" stroke="#2b2b2b" stroke-width="1"/>
<line x1="422.7" y1="369.2" x2="417.7" y2="369.2" stroke="#2b2b2b" stroke-width="1"/>
<text x="259.4" y="372.3" font-size="13.3" text-anchor="end" fill="#2b2b2b" font-family="'Liberation Serif', serif" >2</text>
<line x1="263.5" y1="349.6" x2="268.5" y2="349.6" stroke="#2b2b2b" stroke-width="1"/>
<line x1="422.7" y1="349.6" x2="417.7" y2="349.6" stroke="#2b2b2b" stroke-width="1"/>
<text x="259.4" y="352.7" font-size="13.3" text-anchor="end" fill="#2b2b2b" font-family="'Liberation Serif', serif" >4</text>
<line x1="263.5" y1="330" x2="268.5" y2="330" stroke="#2b2b2b" stroke-width="1"/>
<line x1="422.7" y1="330" x2="417.7" y2="330" stroke="#2b2b2b" stroke-width="1"/>
<text x="259.4" y="333.1" font-size="13.3" text-anchor="end" fill="#2b2b2b" font-family="'Liberation Serif', serif" >6</text>
<line x1="263.5" y1="310.4" x2="268.5" y2="310.4" stroke="#2b2b2b" stroke-width="1"/>
<line x1="422.7" y1="310.4" x2="417.7" y2="310.4" stroke="#2b2b2b" stroke-width="1"/>
<text x="259.4" y="313.5" font-size="13.3" text-anchor="end" fill="#2b2b2b" font-family="'Liberation Serif', serif" >8</text>
<line x1="263.5" y1="290.8" x2="268.5" y2="290.8" stroke="#2b2b2b" stroke-width="1"/>
<line x1="422.7" y1="290.8" x2="417.7" y2="290.8" stroke="#2b2b2b" stroke-width="1"/>
<text x="259.4" y="293.9" font-size="13.3" text-anchor="end" fill="#2b2b2b" font-family="'Liberation Serif', serif" >10</text>
<line x1="263.5" y1="271.2" x2="268.5" y2="271.2" stroke="#2b2b2b" stroke-width="1"/>
<line x1="422.7" y1="271.2" x2="417.7" y2="271.2" stroke="#2b2b2b" stroke-width="1"/>
<text x="259.4" y="274.3" font-size="13.3" text-anchor="end" fill="#2b2b2b" font-family="'Liberation Serif', serif" >12</text>
<line x1="263.5" y1="251.6" x2="268.5" y2="251.6" stroke="#2b2b2b" stroke-width="1"/>
<line x1="422.7" y1="251.6" x2="417.7" y2="251.6" stroke="#2b2b2b" stroke-width="1"/>
<text x="259.4" y="254.7" font-size="13.3" text-anchor="end" fill="#2b2b2b" font-family="'Liberation Serif', serif" >14</text>
<line x1="279.47" y1="379" x2="279.47" y2="376" stroke="#2b2b2b" stroke-width="0.9"/>
<line x1="279.47" y1="251.6" x2="279.47" y2="254.6" stroke="#2b2b2b" stroke-width="0.9"/>
<line x1="288.82" y1="379" x2="288.82" y2="376" stroke="#2b2b2b" stroke-width="0.9"/>
<line x1="288.82" y1="251.6" x2="288.82" y2="254.6" stroke="#2b2b2b" stroke-width="0.9"/>
<line x1="295.45" y1="379" x2="295.45" y2="376" stroke="#2b2b2b" stroke-width="0.9"/>
<line x1="295.45" y1="251.6" x2="295.45" y2="254.6" stroke="#2b2b2b" stroke-width="0.9"/>
<line x1="300.59" y1="379" x2="300.59" y2="376" stroke="#2b2b2b" stroke-width="0.9"/>
<line x1="300.59" y1="251.6" x2="300.59" y2="254.6" stroke="#2b2b2b" stroke-width="0.9"/>
<line x1="304.79" y1="379" x2="304.79" y2="376" stroke="#2b2b2b" stroke-width="0.9"/>
<line x1="304.79" y1="251.6" x2="304.79" y2="254.6" stroke="#2b2b2b" stroke-width="0.9"/>
<line x1="308.35" y1="379" x2="308.35" y2="376" stroke="#2b2b2b" stroke-width="0.9"/>
<line x1="308.35" y1="251.6" x2="308.35" y2="254.6" stroke="#2b2b2b" stroke-width="0.9"/>
<line x1="311.42" y1="379" x2="311.42" y2="376" stroke="#2b2b2b" stroke-width="0.9"/>
<line x1="311.42" y1="251.6" x2="311.42" y2="254.6" stroke="#2b2b2b" stroke-width="0.9"/>
<line x1="314.14" y1="379" x2="314.14" y2="376" stroke="#2b2b2b" stroke-width="0.9"/>
<line x1="314.14" y1="251.6" x2="314.14" y2="254.6" stroke="#2b2b2b" stroke-width="0.9"/>
<line x1="316.57" y1="379" x2="316.57" y2="374" stroke="#2b2b2b" stroke-width="0.9"/>
<line x1="316.57" y1="251.6" x2="316.57" y2="256.6" stroke="#2b2b2b" stroke-width="0.9"/>
<line x1="332.54" y1="379" x2="332.54" y2="376" stroke="#2b2b2b" stroke-width="0.9"/>
<line x1="332.54" y1="251.6" x2="332.54" y2="254.6" stroke="#2b2b2b" stroke-width="0.9"/>
<line x1="341.89" y1="379" x2="341.89" y2="376" stroke="#2b2b2b" stroke-width="0.9"/>
<line x1="341.89" y1="251.6" x2="341.89" y2="254.6" stroke="#2b2b2b" stroke-width="0.9"/>
<line x1="348.52" y1="379" x2="348.52" y2="376" stroke="#2b2b2b" stroke-width="0.9"/>
<line x1="348.52" y1="251.6" x2="348.52" y2="254.6" stroke="#2b2b2b" stroke-width="0.9"/>
<line x1="353.66" y1="379" x2="353.66" y2="376" stroke="#2b2b2b" stroke-width="0.9"/>
<line x1="353.66" y1="251.6" x2="353.66" y2="254.6" stroke="#2b2b2b" stroke-width="0.9"/>
<line x1="357.86" y1="379" x2="357.86" y2="376" stroke="#2b2b2b" stroke-width="0.9"/>
<line x1="357.86" y1="251.6" x2="357.86" y2="254.6" stroke="#2b2b2b" stroke-width="0.9"/>
<line x1="361.41" y1="379" x2="361.41" y2="376" stroke="#2b2b2b" stroke-width="0.9"/>
<line x1="361.41" y1="251.6" x2="361.41" y2="254.6" stroke="#2b2b2b" stroke-width="0.9"/>
<line x1="364.49" y1="379" x2="364.49" y2="376" stroke="#2b2b2b" stroke-width="0.9"/>
<line x1="364.49" y1="251.6" x2="364.49" y2="254.6" stroke="#2b2b2b" stroke-width="0.9"/>
<line x1="367.21" y1="379" x2="367.21" y2="376" stroke="#2b2b2b" stroke-width="0.9"/>
<line x1="367.21" y1="251.6" x2="367.21" y2="254.6" stroke="#2b2b2b" stroke-width="0.9"/>
<line x1="369.63" y1="379" x2="369.63" y2="374" stroke="#2b2b2b" stroke-width="0.9"/>
<line x1="369.63" y1="251.6" x2="369.63" y2="256.6" stroke="#2b2b2b" stroke-width="0.9"/>
<line x1="385.61" y1="379" x2="385.61" y2="376" stroke="#2b2b2b" stroke-width="0.9"/>
<line x1="385.61" y1="251.6" x2="385.61" y2="254.6" stroke="#2b2b2b" stroke-width="0.9"/>
<line x1="394.95" y1="379" x2="394.95" y2="376" stroke="#2b2b2b" stroke-width="0.9"/>
<line x1="394.95" y1="251.6" x2="394.95" y2="254.6" stroke="#2b2b2b" stroke-width="0.9"/>
<line x1="401.58" y1="379" x2="401.58" y2="376" stroke="#2b2b2b" stroke-width="0.9"/>
<line x1="401.58" y1="251.6" x2="401.58" y2="254.6" stroke="#2b2b2b" stroke-width="0.9"/>
<line x1="406.73" y1="379" x2="406.73" y2="376" stroke="#2b2b2b" stroke-width="0.9"/>
<line x1="406.73" y1="251.6" x2="406.73" y2="254.6" stroke="#2b2b2b" stroke-width="0.9"/>
<line x1="410.93" y1="379" x2="410.93" y2="376" stroke="#2b2b2b" stroke-width="0.9"/>
<line x1="410.93" y1="251.6" x2="410.93" y2="254.6" stroke="#2b2b2b" stroke-width="0.9"/>
<line x1="414.48" y1="379" x2="414.48" y2="376" stroke="#2b2b2b" stroke-width="0.9"/>
<line x1="414.48" y1="251.6" x2="414.48" y2="254.6" stroke="#2b2b2b" stroke-width="0.9"/>
<line x1="417.56" y1="379" x2="417.56" y2="376" stroke="#2b2b2b" stroke-width="0.9"/>
<line x1="417.56" y1="251.6" x2="417.56" y2="254.6" stroke="#2b2b2b" stroke-width="0.9"/>
<line x1="420.27" y1="379" x2="420.27" y2="376" stroke="#2b2b2b" stroke-width="0.9"/>
<line x1="420.27" y1="251.6" x2="420.27" y2="254.6" stroke="#2b2b2b" stroke-width="0.9"/>
<text x="263.5" y="394.6" font-size="13" text-anchor="middle" fill="#2b2b2b" font-family="'Liberation Serif', serif" >1</text>
<text x="316.57" y="394.6" font-size="13" text-anchor="middle" fill="#2b2b2b" font-family="'Liberation Serif', serif" >10</text>
<text x="369.63" y="394.6" font-size="13" text-anchor="middle" fill="#2b2b2b" font-family="'Liberation Serif', serif" >100</text>
<text x="422.7" y="394.6" font-size="13" text-anchor="middle" fill="#2b2b2b" font-family="'Liberation Serif', serif" >1000</text>
<text x="294.6" y="410.6" font-size="14" text-anchor="start" fill="#2b2b2b" font-family="'Liberation Serif', serif" textLength="97" lengthAdjust="spacingAndGlyphs" ><tspan font-style="italic">v</tspan><tspan font-size="9.5" dy="2.5">network</tspan><tspan dy="-2.5"> / </tspan><tspan font-style="italic">v</tspan><tspan font-size="9.5" dy="2.5">matrix</tspan></text>
<g transform="translate(235.8 315.9) rotate(-90)"><text x="0" y="0" font-size="12.4" text-anchor="middle" fill="#2b2b2b" font-family="'Liberation Serif', serif" textLength="68" lengthAdjust="spacingAndGlyphs" >speed gain</text></g>
<rect x="268.5" y="256" width="56.3" height="46.6" fill="#fff" stroke="#d0d0d0" stroke-width="0.8"/>
<line x1="271.9" y1="263" x2="289" y2="263" stroke="#a51c1c" stroke-width="3"/>
<text x="290.3" y="266.2" font-size="9.8" text-anchor="start" fill="#2b2b2b" font-family="'Liberation Serif', serif" textLength="32" lengthAdjust="spacingAndGlyphs" >Mouse 1</text>
<line x1="271.9" y1="274" x2="289" y2="274" stroke="#f07a45" stroke-width="3"/>
<text x="290.3" y="277.2" font-size="9.8" text-anchor="start" fill="#2b2b2b" font-family="'Liberation Serif', serif" textLength="32" lengthAdjust="spacingAndGlyphs" >Mouse 2</text>
<line x1="271.9" y1="285" x2="289" y2="285" stroke="#0c1660" stroke-width="3"/>
<text x="290.3" y="288.2" font-size="9.8" text-anchor="start" fill="#2b2b2b" font-family="'Liberation Serif', serif" textLength="32" lengthAdjust="spacingAndGlyphs" >Sheep 1</text>
<line x1="271.9" y1="295.8" x2="289" y2="295.8" stroke="#3a6ff0" stroke-width="3"/>
<text x="290.3" y="299" font-size="9.8" text-anchor="start" fill="#2b2b2b" font-family="'Liberation Serif', serif" textLength="32" lengthAdjust="spacingAndGlyphs" >Sheep 2</text>
<defs><filter id="cmapB" x="0" y="0" width="1" height="1" filterUnits="objectBoundingBox" color-interpolation-filters="sRGB"><feGaussianBlur stdDeviation="0.65"/><feComponentTransfer><feFuncR type="table" tableValues="0.1020 0.1085 0.1150 0.1255 0.1678 0.2745 0.4824 0.6977 0.8235 0.8873 0.9118 0.9363 0.9549 0.9652 0.9676 0.9701 0.9725 0.9658 0.9590 0.9513 0.9431 0.9193 0.8928 0.8699 0.8471 0.8216 0.7961 0.7706 0.7451 0.7176 0.6902 0.6627 0.6353 0.6118 0.5882 0.5647 0.5412 0.5235 0.5059 0.4882 0.4706"/><feFuncG type="table" tableValues="0.1725 0.2314 0.3425 0.4510 0.5757 0.6863 0.5980 0.3929 0.3137 0.4120 0.5162 0.5971 0.6882 0.7809 0.8029 0.8250 0.8471 0.8673 0.8876 0.9052 0.9216 0.9123 0.8928 0.8699 0.8471 0.8216 0.7961 0.7706 0.7451 0.7176 0.6902 0.6627 0.6353 0.6118 0.5882 0.5647 0.5412 0.5235 0.5059 0.4882 0.4706"/><feFuncB type="table" tableValues="0.3765 0.4712 0.6340 0.7647 0.8643 0.9059 0.6922 0.3212 0.1176 0.0941 0.0941 0.0755 0.0569 0.0539 0.0882 0.1225 0.1569 0.2786 0.4003 0.5837 0.7961 0.8777 0.8928 0.8699 0.8471 0.8216 0.7961 0.7706 0.7451 0.7176 0.6902 0.6627 0.6353 0.6118 0.5882 0.5647 0.5412 0.5235 0.5059 0.4882 0.4706"/><feFuncA type="identity"/></feComponentTransfer></filter><filter id="blur4" color-interpolation-filters="sRGB" x="-50%" y="-50%" width="200%" height="200%"><feGaussianBlur stdDeviation="5"/></filter><filter id="blur2" color-interpolation-filters="sRGB" x="-50%" y="-50%" width="200%" height="200%"><feGaussianBlur stdDeviation="2"/></filter><filter id="turbT" x="0" y="0" width="1" height="1" color-interpolation-filters="sRGB"><feTurbulence type="fractalNoise" baseFrequency="0.13 0.05" numOctaves="2" seed="3" result="t"/><feColorMatrix in="t" type="matrix" values="1 0 0 0 0  1 0 0 0 0  1 0 0 0 0  0 0 0 0 1" result="gr"/><feComponentTransfer><feFuncR type="table" tableValues="0.1046 0.1046 0.1046 0.1046 0.1046 0.1046 0.1046 0.1046 0.1046 0.1046 0.1046 0.1046 0.1054 0.1084 0.1114 0.1144 0.1174 0.1231 0.1292 0.1454 0.1851 0.2127 0.2525 0.2965 0.3498 0.4314 0.5129 0.5826 0.6484 0.7108 0.7500 0.7892 0.8261 0.8471 0.8680 0.8873 0.8951 0.9029 0.9108 0.9186 0.9265"/><feFuncG type="table" tableValues="0.1961 0.1961 0.1961 0.1961 0.1961 0.1961 0.1961 0.1961 0.1961 0.1961 0.1961 0.1961 0.2031 0.2302 0.2729 0.3301 0.3872 0.4333 0.4784 0.5329 0.6086 0.6613 0.6816 0.6910 0.6847 0.6314 0.5780 0.5132 0.4444 0.3814 0.3578 0.3343 0.3176 0.3490 0.3804 0.4120 0.4453 0.4787 0.5120 0.5441 0.5676"/><feFuncB type="table" tableValues="0.4144 0.4144 0.4144 0.4144 0.4144 0.4144 0.4144 0.4144 0.4144 0.4144 0.4144 0.4144 0.4258 0.4693 0.5333 0.6160 0.6987 0.7471 0.7922 0.8378 0.8847 0.9173 0.9137 0.8980 0.8604 0.7569 0.6533 0.5356 0.4131 0.2980 0.2353 0.1725 0.1167 0.1088 0.1010 0.0941 0.0941 0.0941 0.0941 0.0931 0.0853"/></feComponentTransfer></filter><filter id="turbL" x="0" y="0" width="1" height="1" color-interpolation-filters="sRGB"><feTurbulence type="fractalNoise" baseFrequency="0.05 0.07" numOctaves="2" seed="3" result="t"/><feColorMatrix in="t" type="matrix" values="1 0 0 0 0  1 0 0 0 0  1 0 0 0 0  0 0 0 0 1" result="gr"/><feComponentTransfer><feFuncR type="table" tableValues="0.1046 0.1046 0.1046 0.1046 0.1046 0.1046 0.1046 0.1046 0.1046 0.1046 0.1046 0.1046 0.1054 0.1084 0.1114 0.1144 0.1174 0.1231 0.1292 0.1454 0.1851 0.2127 0.2525 0.2965 0.3498 0.4314 0.5129 0.5826 0.6484 0.7108 0.7500 0.7892 0.8261 0.8471 0.8680 0.8873 0.8951 0.9029 0.9108 0.9186 0.9265"/><feFuncG type="table" tableValues="0.1961 0.1961 0.1961 0.1961 0.1961 0.1961 0.1961 0.1961 0.1961 0.1961 0.1961 0.1961 0.2031 0.2302 0.2729 0.3301 0.3872 0.4333 0.4784 0.5329 0.6086 0.6613 0.6816 0.6910 0.6847 0.6314 0.5780 0.5132 0.4444 0.3814 0.3578 0.3343 0.3176 0.3490 0.3804 0.4120 0.4453 0.4787 0.5120 0.5441 0.5676"/><feFuncB type="table" tableValues="0.4144 0.4144 0.4144 0.4144 0.4144 0.4144 0.4144 0.4144 0.4144 0.4144 0.4144 0.4144 0.4258 0.4693 0.5333 0.6160 0.6987 0.7471 0.7922 0.8378 0.8847 0.9173 0.9137 0.8980 0.8604 0.7569 0.6533 0.5356 0.4131 0.2980 0.2353 0.1725 0.1167 0.1088 0.1010 0.0941 0.0941 0.0941 0.0941 0.0931 0.0853"/></feComponentTransfer></filter><filter id="turbR" x="0" y="0" width="1" height="1" color-interpolation-filters="sRGB"><feTurbulence type="fractalNoise" baseFrequency="0.13 0.07" numOctaves="2" seed="3" result="t"/><feColorMatrix in="t" type="matrix" values="1 0 0 0 0  1 0 0 0 0  1 0 0 0 0  0 0 0 0 1" result="gr"/><feComponentTransfer><feFuncR type="table" tableValues="0.1046 0.1046 0.1046 0.1046 0.1046 0.1046 0.1046 0.1046 0.1046 0.1046 0.1046 0.1046 0.1054 0.1084 0.1114 0.1144 0.1174 0.1231 0.1292 0.1454 0.1851 0.2127 0.2525 0.2965 0.3498 0.4314 0.5129 0.5826 0.6484 0.7108 0.7500 0.7892 0.8261 0.8471 0.8680 0.8873 0.8951 0.9029 0.9108 0.9186 0.9265"/><feFuncG type="table" tableValues="0.1961 0.1961 0.1961 0.1961 0.1961 0.1961 0.1961 0.1961 0.1961 0.1961 0.1961 0.1961 0.2031 0.2302 0.2729 0.3301 0.3872 0.4333 0.4784 0.5329 0.6086 0.6613 0.6816 0.6910 0.6847 0.6314 0.5780 0.5132 0.4444 0.3814 0.3578 0.3343 0.3176 0.3490 0.3804 0.4120 0.4453 0.4787 0.5120 0.5441 0.5676"/><feFuncB type="table" tableValues="0.4144 0.4144 0.4144 0.4144 0.4144 0.4144 0.4144 0.4144 0.4144 0.4144 0.4144 0.4144 0.4258 0.4693 0.5333 0.6160 0.6987 0.7471 0.7922 0.8378 0.8847 0.9173 0.9137 0.8980 0.8604 0.7569 0.6533 0.5356 0.4131 0.2980 0.2353 0.1725 0.1167 0.1088 0.1010 0.0941 0.0941 0.0941 0.0941 0.0931 0.0853"/></feComponentTransfer></filter><clipPath id="hx0"><path d="M335.3 39.5 L388 19.3 L429.2 45.5 L429.2 75.2 L376.5 95.4 L335.3 69.2Z"/></clipPath><clipPath id="hx1"><path d="M335.6 135.5 L388.3 116.3 L429.1 142 L429.1 172.3 L376.4 191.5 L335.6 165.8Z"/></clipPath><clipPath id="hx2"><path d="M448.2 41.5 L500.5 22.6 L541.5 50 L541.5 79.5 L489.2 98.4 L448.2 71Z"/></clipPath><clipPath id="hx3"><path d="M449 136.2 L501.5 116 L543 144 L543 173 L490.5 193.2 L449 165.2Z"/></clipPath><radialGradient id="src1"><stop offset="0" stop-color="#080808"/><stop offset="1" stop-color="#181818"/></radialGradient><radialGradient id="src2"><stop offset="0" stop-color="#3b3b3b"/><stop offset="1" stop-color="#999999"/></radialGradient><radialGradient id="src3"><stop offset="0" stop-color="#424242"/><stop offset="1" stop-color="#6b6b6b"/></radialGradient><radialGradient id="src4"><stop offset="0" stop-color="#3d3d3d"/><stop offset="1" stop-color="#666666"/></radialGradient><radialGradient id="src5"><stop offset="0" stop-color="#080808"/><stop offset="1" stop-color="#181818"/></radialGradient><radialGradient id="rgF1" cx="0" cy="0" r="1" gradientUnits="userSpaceOnUse" gradientTransform="translate(491 70) scale(54 34)"><stop offset="0" stop-color="#7a7a7a"/><stop offset="0.4" stop-color="#858585"/><stop offset="0.62" stop-color="#a6a6a6"/><stop offset="0.82" stop-color="#dedede"/><stop offset="1" stop-color="#ffffff"/></radialGradient><radialGradient id="src6"><stop offset="0" stop-color="#707070"/><stop offset="1" stop-color="#858585"/></radialGradient><radialGradient id="src7"><stop offset="0" stop-color="#858585"/><stop offset="1" stop-color="#cccccc"/></radialGradient><radialGradient id="src8"><stop offset="0" stop-color="#858585"/><stop offset="1" stop-color="#cccccc"/></radialGradient><radialGradient id="src9"><stop offset="0" stop-color="#999999"/><stop offset="1" stop-color="#f2f2f2"/></radialGradient><radialGradient id="src10"><stop offset="0" stop-color="#999999"/><stop offset="1" stop-color="#f2f2f2"/></radialGradient><radialGradient id="src11"><stop offset="0" stop-color="#4f4f4f"/><stop offset="1" stop-color="#8a8a8a"/></radialGradient><radialGradient id="src12"><stop offset="0" stop-color="#4f4f4f"/><stop offset="1" stop-color="#8a8a8a"/></radialGradient><radialGradient id="src13"><stop offset="0" stop-color="#060606"/><stop offset="1" stop-color="#171717"/></radialGradient><linearGradient id="cbg" x1="0" y1="1" x2="0" y2="0"><stop offset="0" stop-color="rgb(31,74,143)"/><stop offset="0.05" stop-color="rgb(29,102,181)"/><stop offset="0.08" stop-color="rgb(32,128,208)"/><stop offset="0.11" stop-color="rgb(56,168,232)"/><stop offset="0.14" stop-color="rgb(80,176,224)"/><stop offset="0.15" stop-color="rgb(136,144,160)"/><stop offset="0.18" stop-color="rgb(176,96,80)"/><stop offset="0.2" stop-color="rgb(208,80,32)"/><stop offset="0.22" stop-color="rgb(224,104,24)"/><stop offset="0.26" stop-color="rgb(232,138,24)"/><stop offset="0.29" stop-color="rgb(240,160,16)"/><stop offset="0.32" stop-color="rgb(248,205,0)"/><stop offset="0.4" stop-color="rgb(248,216,32)"/><stop offset="0.46" stop-color="rgb(244,228,112)"/><stop offset="0.51" stop-color="rgb(240,236,216)"/><stop offset="0.54" stop-color="rgb(230,230,230)"/><stop offset="0.6" stop-color="rgb(218,218,218)"/><stop offset="0.7" stop-color="rgb(192,192,192)"/><stop offset="0.8" stop-color="rgb(164,164,164)"/><stop offset="0.9" stop-color="rgb(140,140,140)"/><stop offset="1" stop-color="rgb(122,122,122)"/></linearGradient></defs>
<g clip-path="url(#hx0)"><g filter="url(#cmapB)">
<rect x="320" y="10" width="125" height="100" fill="#a3a3a3"/>
<g filter="url(#blur4)">
<ellipse cx="356" cy="33" rx="18" ry="7" fill="#f5f5f5"/>
<ellipse cx="430" cy="66" rx="8" ry="16" fill="#c2c2c2"/>
<ellipse cx="336" cy="80" rx="8" ry="12" fill="#b8b8b8"/>
<ellipse cx="405" cy="88" rx="14" ry="8" fill="#b2b2b2"/>
</g>
<g style="mix-blend-mode:darken"><path d="M389.14 26.88 C389.79 25.84 393.56 24.86 396.16 24.93 C398.76 25 402.01 26.04 404.74 27.27 C407.47 28.5 412.02 31.17 412.54 32.34 C413.06 33.51 410.07 34.16 407.86 34.29 C405.65 34.42 401.88 33.64 399.28 33.12 C396.68 32.6 393.95 32.21 392.26 31.17 C390.57 30.13 388.49 27.92 389.14 26.88Z" fill="#ebebeb" stroke="#ebebeb" stroke-width="54.55" stroke-linejoin="round"/><path d="M389.14 26.88 C389.79 25.84 393.56 24.86 396.16 24.93 C398.76 25 402.01 26.04 404.74 27.27 C407.47 28.5 412.02 31.17 412.54 32.34 C413.06 33.51 410.07 34.16 407.86 34.29 C405.65 34.42 401.88 33.64 399.28 33.12 C396.68 32.6 393.95 32.21 392.26 31.17 C390.57 30.13 388.49 27.92 389.14 26.88Z" fill="#dedede" stroke="#dedede" stroke-width="49.09" stroke-linejoin="round"/><path d="M389.14 26.88 C389.79 25.84 393.56 24.86 396.16 24.93 C398.76 25 402.01 26.04 404.74 27.27 C407.47 28.5 412.02 31.17 412.54 32.34 C413.06 33.51 410.07 34.16 407.86 34.29 C405.65 34.42 401.88 33.64 399.28 33.12 C396.68 32.6 393.95 32.21 392.26 31.17 C390.57 30.13 388.49 27.92 389.14 26.88Z" fill="#d1d1d1" stroke="#d1d1d1" stroke-width="43.64" stroke-linejoin="round"/><path d="M389.14 26.88 C389.79 25.84 393.56 24.86 396.16 24.93 C398.76 25 402.01 26.04 404.74 27.27 C407.47 28.5 412.02 31.17 412.54 32.34 C413.06 33.51 410.07 34.16 407.86 34.29 C405.65 34.42 401.88 33.64 399.28 33.12 C396.68 32.6 393.95 32.21 392.26 31.17 C390.57 30.13 388.49 27.92 389.14 26.88Z" fill="#c4c4c4" stroke="#c4c4c4" stroke-width="40" stroke-linejoin="round"/><path d="M389.14 26.88 C389.79 25.84 393.56 24.86 396.16 24.93 C398.76 25 402.01 26.04 404.74 27.27 C407.47 28.5 412.02 31.17 412.54 32.34 C413.06 33.51 410.07 34.16 407.86 34.29 C405.65 34.42 401.88 33.64 399.28 33.12 C396.68 32.6 393.95 32.21 392.26 31.17 C390.57 30.13 388.49 27.92 389.14 26.88Z" fill="#b8b8b8" stroke="#b8b8b8" stroke-width="36.36" stroke-linejoin="round"/><path d="M389.14 26.88 C389.79 25.84 393.56 24.86 396.16 24.93 C398.76 25 402.01 26.04 404.74 27.27 C407.47 28.5 412.02 31.17 412.54 32.34 C413.06 33.51 410.07 34.16 407.86 34.29 C405.65 34.42 401.88 33.64 399.28 33.12 C396.68 32.6 393.95 32.21 392.26 31.17 C390.57 30.13 388.49 27.92 389.14 26.88Z" fill="#ababab" stroke="#ababab" stroke-width="33.64" stroke-linejoin="round"/><path d="M389.14 26.88 C389.79 25.84 393.56 24.86 396.16 24.93 C398.76 25 402.01 26.04 404.74 27.27 C407.47 28.5 412.02 31.17 412.54 32.34 C413.06 33.51 410.07 34.16 407.86 34.29 C405.65 34.42 401.88 33.64 399.28 33.12 C396.68 32.6 393.95 32.21 392.26 31.17 C390.57 30.13 388.49 27.92 389.14 26.88Z" fill="#9e9e9e" stroke="#9e9e9e" stroke-width="30.91" stroke-linejoin="round"/><path d="M389.14 26.88 C389.79 25.84 393.56 24.86 396.16 24.93 C398.76 25 402.01 26.04 404.74 27.27 C407.47 28.5 412.02 31.17 412.54 32.34 C413.06 33.51 410.07 34.16 407.86 34.29 C405.65 34.42 401.88 33.64 399.28 33.12 C396.68 32.6 393.95 32.21 392.26 31.17 C390.57 30.13 388.49 27.92 389.14 26.88Z" fill="#919191" stroke="#919191" stroke-width="28.18" stroke-linejoin="round"/><path d="M389.14 26.88 C389.79 25.84 393.56 24.86 396.16 24.93 C398.76 25 402.01 26.04 404.74 27.27 C407.47 28.5 412.02 31.17 412.54 32.34 C413.06 33.51 410.07 34.16 407.86 34.29 C405.65 34.42 401.88 33.64 399.28 33.12 C396.68 32.6 393.95 32.21 392.26 31.17 C390.57 30.13 388.49 27.92 389.14 26.88Z" fill="#858585" stroke="#858585" stroke-width="25.45" stroke-linejoin="round"/><path d="M389.14 26.88 C389.79 25.84 393.56 24.86 396.16 24.93 C398.76 25 402.01 26.04 404.74 27.27 C407.47 28.5 412.02 31.17 412.54 32.34 C413.06 33.51 410.07 34.16 407.86 34.29 C405.65 34.42 401.88 33.64 399.28 33.12 C396.68 32.6 393.95 32.21 392.26 31.17 C390.57 30.13 388.49 27.92 389.14 26.88Z" fill="#787878" stroke="#787878" stroke-width="21.82" stroke-linejoin="round"/><path d="M389.14 26.88 C389.79 25.84 393.56 24.86 396.16 24.93 C398.76 25 402.01 26.04 404.74 27.27 C407.47 28.5 412.02 31.17 412.54 32.34 C413.06 33.51 410.07 34.16 407.86 34.29 C405.65 34.42 401.88 33.64 399.28 33.12 C396.68 32.6 393.95 32.21 392.26 31.17 C390.57 30.13 388.49 27.92 389.14 26.88Z" fill="#6b6b6b" stroke="#6b6b6b" stroke-width="18.18" stroke-linejoin="round"/><path d="M389.14 26.88 C389.79 25.84 393.56 24.86 396.16 24.93 C398.76 25 402.01 26.04 404.74 27.27 C407.47 28.5 412.02 31.17 412.54 32.34 C413.06 33.51 410.07 34.16 407.86 34.29 C405.65 34.42 401.88 33.64 399.28 33.12 C396.68 32.6 393.95 32.21 392.26 31.17 C390.57 30.13 388.49 27.92 389.14 26.88Z" fill="#636363" stroke="#636363" stroke-width="16" stroke-linejoin="round"/><path d="M389.14 26.88 C389.79 25.84 393.56 24.86 396.16 24.93 C398.76 25 402.01 26.04 404.74 27.27 C407.47 28.5 412.02 31.17 412.54 32.34 C413.06 33.51 410.07 34.16 407.86 34.29 C405.65 34.42 401.88 33.64 399.28 33.12 C396.68 32.6 393.95 32.21 392.26 31.17 C390.57 30.13 388.49 27.92 389.14 26.88Z" fill="#5e5e5e" stroke="#5e5e5e" stroke-width="14.55" stroke-linejoin="round"/><path d="M389.14 26.88 C389.79 25.84 393.56 24.86 396.16 24.93 C398.76 25 402.01 26.04 404.74 27.27 C407.47 28.5 412.02 31.17 412.54 32.34 C413.06 33.51 410.07 34.16 407.86 34.29 C405.65 34.42 401.88 33.64 399.28 33.12 C396.68 32.6 393.95 32.21 392.26 31.17 C390.57 30.13 388.49 27.92 389.14 26.88Z" fill="#545454" stroke="#545454" stroke-width="12.73" stroke-linejoin="round"/><path d="M389.14 26.88 C389.79 25.84 393.56 24.86 396.16 24.93 C398.76 25 402.01 26.04 404.74 27.27 C407.47 28.5 412.02 31.17 412.54 32.34 C413.06 33.51 410.07 34.16 407.86 34.29 C405.65 34.42 401.88 33.64 399.28 33.12 C396.68 32.6 393.95 32.21 392.26 31.17 C390.57 30.13 388.49 27.92 389.14 26.88Z" fill="#4a4a4a" stroke="#4a4a4a" stroke-width="10.91" stroke-linejoin="round"/><path d="M389.14 26.88 C389.79 25.84 393.56 24.86 396.16 24.93 C398.76 25 402.01 26.04 404.74 27.27 C407.47 28.5 412.02 31.17 412.54 32.34 C413.06 33.51 410.07 34.16 407.86 34.29 C405.65 34.42 401.88 33.64 399.28 33.12 C396.68 32.6 393.95 32.21 392.26 31.17 C390.57 30.13 388.49 27.92 389.14 26.88Z" fill="#424242" stroke="#424242" stroke-width="9.45" stroke-linejoin="round"/><path d="M389.14 26.88 C389.79 25.84 393.56 24.86 396.16 24.93 C398.76 25 402.01 26.04 404.74 27.27 C407.47 28.5 412.02 31.17 412.54 32.34 C413.06 33.51 410.07 34.16 407.86 34.29 C405.65 34.42 401.88 33.64 399.28 33.12 C396.68 32.6 393.95 32.21 392.26 31.17 C390.57 30.13 388.49 27.92 389.14 26.88Z" fill="#3d3d3d" stroke="#3d3d3d" stroke-width="8.36" stroke-linejoin="round"/><path d="M389.14 26.88 C389.79 25.84 393.56 24.86 396.16 24.93 C398.76 25 402.01 26.04 404.74 27.27 C407.47 28.5 412.02 31.17 412.54 32.34 C413.06 33.51 410.07 34.16 407.86 34.29 C405.65 34.42 401.88 33.64 399.28 33.12 C396.68 32.6 393.95 32.21 392.26 31.17 C390.57 30.13 388.49 27.92 389.14 26.88Z" fill="#383838" stroke="#383838" stroke-width="7.27" stroke-linejoin="round"/><path d="M389.14 26.88 C389.79 25.84 393.56 24.86 396.16 24.93 C398.76 25 402.01 26.04 404.74 27.27 C407.47 28.5 412.02 31.17 412.54 32.34 C413.06 33.51 410.07 34.16 407.86 34.29 C405.65 34.42 401.88 33.64 399.28 33.12 C396.68 32.6 393.95 32.21 392.26 31.17 C390.57 30.13 388.49 27.92 389.14 26.88Z" fill="#343434" stroke="#343434" stroke-width="6.36" stroke-linejoin="round"/><path d="M389.14 26.88 C389.79 25.84 393.56 24.86 396.16 24.93 C398.76 25 402.01 26.04 404.74 27.27 C407.47 28.5 412.02 31.17 412.54 32.34 C413.06 33.51 410.07 34.16 407.86 34.29 C405.65 34.42 401.88 33.64 399.28 33.12 C396.68 32.6 393.95 32.21 392.26 31.17 C390.57 30.13 388.49 27.92 389.14 26.88Z" fill="#2f2f2f" stroke="#2f2f2f" stroke-width="5.45" stroke-linejoin="round"/><path d="M389.14 26.88 C389.79 25.84 393.56 24.86 396.16 24.93 C398.76 25 402.01 26.04 404.74 27.27 C407.47 28.5 412.02 31.17 412.54 32.34 C413.06 33.51 410.07 34.16 407.86 34.29 C405.65 34.42 401.88 33.64 399.28 33.12 C396.68 32.6 393.95 32.21 392.26 31.17 C390.57 30.13 388.49 27.92 389.14 26.88Z" fill="#292929" stroke="#292929" stroke-width="4.73" stroke-linejoin="round"/><path d="M389.14 26.88 C389.79 25.84 393.56 24.86 396.16 24.93 C398.76 25 402.01 26.04 404.74 27.27 C407.47 28.5 412.02 31.17 412.54 32.34 C413.06 33.51 410.07 34.16 407.86 34.29 C405.65 34.42 401.88 33.64 399.28 33.12 C396.68 32.6 393.95 32.21 392.26 31.17 C390.57 30.13 388.49 27.92 389.14 26.88Z" fill="#252525" stroke="#252525" stroke-width="4.18" stroke-linejoin="round"/><path d="M389.14 26.88 C389.79 25.84 393.56 24.86 396.16 24.93 C398.76 25 402.01 26.04 404.74 27.27 C407.47 28.5 412.02 31.17 412.54 32.34 C413.06 33.51 410.07 34.16 407.86 34.29 C405.65 34.42 401.88 33.64 399.28 33.12 C396.68 32.6 393.95 32.21 392.26 31.17 C390.57 30.13 388.49 27.92 389.14 26.88Z" fill="#222222" stroke="#222222" stroke-width="3.45" stroke-linejoin="round"/><path d="M389.14 26.88 C389.79 25.84 393.56 24.86 396.16 24.93 C398.76 25 402.01 26.04 404.74 27.27 C407.47 28.5 412.02 31.17 412.54 32.34 C413.06 33.51 410.07 34.16 407.86 34.29 C405.65 34.42 401.88 33.64 399.28 33.12 C396.68 32.6 393.95 32.21 392.26 31.17 C390.57 30.13 388.49 27.92 389.14 26.88Z" fill="#202020" stroke="#202020" stroke-width="2.73" stroke-linejoin="round"/><path d="M389.14 26.88 C389.79 25.84 393.56 24.86 396.16 24.93 C398.76 25 402.01 26.04 404.74 27.27 C407.47 28.5 412.02 31.17 412.54 32.34 C413.06 33.51 410.07 34.16 407.86 34.29 C405.65 34.42 401.88 33.64 399.28 33.12 C396.68 32.6 393.95 32.21 392.26 31.17 C390.57 30.13 388.49 27.92 389.14 26.88Z" fill="#1e1e1e" stroke="#1e1e1e" stroke-width="1.82" stroke-linejoin="round"/><path d="M389.14 26.88 C389.79 25.84 393.56 24.86 396.16 24.93 C398.76 25 402.01 26.04 404.74 27.27 C407.47 28.5 412.02 31.17 412.54 32.34 C413.06 33.51 410.07 34.16 407.86 34.29 C405.65 34.42 401.88 33.64 399.28 33.12 C396.68 32.6 393.95 32.21 392.26 31.17 C390.57 30.13 388.49 27.92 389.14 26.88Z" fill="#1d1d1d" stroke="#1d1d1d" stroke-width="1.09" stroke-linejoin="round"/><path d="M389.14 26.88 C389.79 25.84 393.56 24.86 396.16 24.93 C398.76 25 402.01 26.04 404.74 27.27 C407.47 28.5 412.02 31.17 412.54 32.34 C413.06 33.51 410.07 34.16 407.86 34.29 C405.65 34.42 401.88 33.64 399.28 33.12 C396.68 32.6 393.95 32.21 392.26 31.17 C390.57 30.13 388.49 27.92 389.14 26.88Z" fill="#1a1a1a" stroke="#1a1a1a" stroke-width="0.55" stroke-linejoin="round"/><path d="M389.14 26.88 C389.79 25.84 393.56 24.86 396.16 24.93 C398.76 25 402.01 26.04 404.74 27.27 C407.47 28.5 412.02 31.17 412.54 32.34 C413.06 33.51 410.07 34.16 407.86 34.29 C405.65 34.42 401.88 33.64 399.28 33.12 C396.68 32.6 393.95 32.21 392.26 31.17 C390.57 30.13 388.49 27.92 389.14 26.88Z" fill="#010101"/></g>
<g style="mix-blend-mode:darken"><path d="M383.17 43.68 C384.55 42.7 386.66 42.04 389.61 41.65 C392.55 41.27 397.55 41.04 400.83 41.38 C404.11 41.72 407.51 42.27 409.29 43.68 C411.07 45.09 411.5 48 411.5 49.84 C411.5 51.68 410.75 53.52 409.29 54.72 C407.84 55.91 404.62 56.56 402.76 57.02 C400.91 57.48 399.62 57.17 398.16 57.48 C396.7 57.79 395.4 58.58 394.02 58.86 C392.64 59.13 391.18 59.24 389.88 59.13 C388.58 59.03 387.35 58.8 386.2 58.21 C385.05 57.63 383.9 56.68 382.98 55.64 C382.06 54.6 380.96 53.31 380.68 51.96 C380.41 50.61 380.91 48.92 381.33 47.54 C381.74 46.16 381.79 44.66 383.17 43.68Z" fill="#ebebeb" stroke="#ebebeb" stroke-width="60" stroke-linejoin="round"/><path d="M383.17 43.68 C384.55 42.7 386.66 42.04 389.61 41.65 C392.55 41.27 397.55 41.04 400.83 41.38 C404.11 41.72 407.51 42.27 409.29 43.68 C411.07 45.09 411.5 48 411.5 49.84 C411.5 51.68 410.75 53.52 409.29 54.72 C407.84 55.91 404.62 56.56 402.76 57.02 C400.91 57.48 399.62 57.17 398.16 57.48 C396.7 57.79 395.4 58.58 394.02 58.86 C392.64 59.13 391.18 59.24 389.88 59.13 C388.58 59.03 387.35 58.8 386.2 58.21 C385.05 57.63 383.9 56.68 382.98 55.64 C382.06 54.6 380.96 53.31 380.68 51.96 C380.41 50.61 380.91 48.92 381.33 47.54 C381.74 46.16 381.79 44.66 383.17 43.68Z" fill="#dedede" stroke="#dedede" stroke-width="54" stroke-linejoin="round"/><path d="M383.17 43.68 C384.55 42.7 386.66 42.04 389.61 41.65 C392.55 41.27 397.55 41.04 400.83 41.38 C404.11 41.72 407.51 42.27 409.29 43.68 C411.07 45.09 411.5 48 411.5 49.84 C411.5 51.68 410.75 53.52 409.29 54.72 C407.84 55.91 404.62 56.56 402.76 57.02 C400.91 57.48 399.62 57.17 398.16 57.48 C396.7 57.79 395.4 58.58 394.02 58.86 C392.64 59.13 391.18 59.24 389.88 59.13 C388.58 59.03 387.35 58.8 386.2 58.21 C385.05 57.63 383.9 56.68 382.98 55.64 C382.06 54.6 380.96 53.31 380.68 51.96 C380.41 50.61 380.91 48.92 381.33 47.54 C381.74 46.16 381.79 44.66 383.17 43.68Z" fill="#d1d1d1" stroke="#d1d1d1" stroke-width="48" stroke-linejoin="round"/><path d="M383.17 43.68 C384.55 42.7 386.66 42.04 389.61 41.65 C392.55 41.27 397.55 41.04 400.83 41.38 C404.11 41.72 407.51 42.27 409.29 43.68 C411.07 45.09 411.5 48 411.5 49.84 C411.5 51.68 410.75 53.52 409.29 54.72 C407.84 55.91 404.62 56.56 402.76 57.02 C400.91 57.48 399.62 57.17 398.16 57.48 C396.7 57.79 395.4 58.58 394.02 58.86 C392.64 59.13 391.18 59.24 389.88 59.13 C388.58 59.03 387.35 58.8 386.2 58.21 C385.05 57.63 383.9 56.68 382.98 55.64 C382.06 54.6 380.96 53.31 380.68 51.96 C380.41 50.61 380.91 48.92 381.33 47.54 C381.74 46.16 381.79 44.66 383.17 43.68Z" fill="#c4c4c4" stroke="#c4c4c4" stroke-width="44" stroke-linejoin="round"/><path d="M383.17 43.68 C384.55 42.7 386.66 42.04 389.61 41.65 C392.55 41.27 397.55 41.04 400.83 41.38 C404.11 41.72 407.51 42.27 409.29 43.68 C411.07 45.09 411.5 48 411.5 49.84 C411.5 51.68 410.75 53.52 409.29 54.72 C407.84 55.91 404.62 56.56 402.76 57.02 C400.91 57.48 399.62 57.17 398.16 57.48 C396.7 57.79 395.4 58.58 394.02 58.86 C392.64 59.13 391.18 59.24 389.88 59.13 C388.58 59.03 387.35 58.8 386.2 58.21 C385.05 57.63 383.9 56.68 382.98 55.64 C382.06 54.6 380.96 53.31 380.68 51.96 C380.41 50.61 380.91 48.92 381.33 47.54 C381.74 46.16 381.79 44.66 383.17 43.68Z" fill="#b8b8b8" stroke="#b8b8b8" stroke-width="40" stroke-linejoin="round"/><path d="M383.17 43.68 C384.55 42.7 386.66 42.04 389.61 41.65 C392.55 41.27 397.55 41.04 400.83 41.38 C404.11 41.72 407.51 42.27 409.29 43.68 C411.07 45.09 411.5 48 411.5 49.84 C411.5 51.68 410.75 53.52 409.29 54.72 C407.84 55.91 404.62 56.56 402.76 57.02 C400.91 57.48 399.62 57.17 398.16 57.48 C396.7 57.79 395.4 58.58 394.02 58.86 C392.64 59.13 391.18 59.24 389.88 59.13 C388.58 59.03 387.35 58.8 386.2 58.21 C385.05 57.63 383.9 56.68 382.98 55.64 C382.06 54.6 380.96 53.31 380.68 51.96 C380.41 50.61 380.91 48.92 381.33 47.54 C381.74 46.16 381.79 44.66 383.17 43.68Z" fill="#ababab" stroke="#ababab" stroke-width="37" stroke-linejoin="round"/><path d="M383.17 43.68 C384.55 42.7 386.66 42.04 389.61 41.65 C392.55 41.27 397.55 41.04 400.83 41.38 C404.11 41.72 407.51 42.27 409.29 43.68 C411.07 45.09 411.5 48 411.5 49.84 C411.5 51.68 410.75 53.52 409.29 54.72 C407.84 55.91 404.62 56.56 402.76 57.02 C400.91 57.48 399.62 57.17 398.16 57.48 C396.7 57.79 395.4 58.58 394.02 58.86 C392.64 59.13 391.18 59.24 389.88 59.13 C388.58 59.03 387.35 58.8 386.2 58.21 C385.05 57.63 383.9 56.68 382.98 55.64 C382.06 54.6 380.96 53.31 380.68 51.96 C380.41 50.61 380.91 48.92 381.33 47.54 C381.74 46.16 381.79 44.66 383.17 43.68Z" fill="#9e9e9e" stroke="#9e9e9e" stroke-width="34" stroke-linejoin="round"/><path d="M383.17 43.68 C384.55 42.7 386.66 42.04 389.61 41.65 C392.55 41.27 397.55 41.04 400.83 41.38 C404.11 41.72 407.51 42.27 409.29 43.68 C411.07 45.09 411.5 48 411.5 49.84 C411.5 51.68 410.75 53.52 409.29 54.72 C407.84 55.91 404.62 56.56 402.76 57.02 C400.91 57.48 399.62 57.17 398.16 57.48 C396.7 57.79 395.4 58.58 394.02 58.86 C392.64 59.13 391.18 59.24 389.88 59.13 C388.58 59.03 387.35 58.8 386.2 58.21 C385.05 57.63 383.9 56.68 382.98 55.64 C382.06 54.6 380.96 53.31 380.68 51.96 C380.41 50.61 380.91 48.92 381.33 47.54 C381.74 46.16 381.79 44.66 383.17 43.68Z" fill="#919191" stroke="#919191" stroke-width="31" stroke-linejoin="round"/><path d="M383.17 43.68 C384.55 42.7 386.66 42.04 389.61 41.65 C392.55 41.27 397.55 41.04 400.83 41.38 C404.11 41.72 407.51 42.27 409.29 43.68 C411.07 45.09 411.5 48 411.5 49.84 C411.5 51.68 410.75 53.52 409.29 54.72 C407.84 55.91 404.62 56.56 402.76 57.02 C400.91 57.48 399.62 57.17 398.16 57.48 C396.7 57.79 395.4 58.58 394.02 58.86 C392.64 59.13 391.18 59.24 389.88 59.13 C388.58 59.03 387.35 58.8 386.2 58.21 C385.05 57.63 383.9 56.68 382.98 55.64 C382.06 54.6 380.96 53.31 380.68 51.96 C380.41 50.61 380.91 48.92 381.33 47.54 C381.74 46.16 381.79 44.66 383.17 43.68Z" fill="#858585" stroke="#858585" stroke-width="28" stroke-linejoin="round"/><path d="M383.17 43.68 C384.55 42.7 386.66 42.04 389.61 41.65 C392.55 41.27 397.55 41.04 400.83 41.38 C404.11 41.72 407.51 42.27 409.29 43.68 C411.07 45.09 411.5 48 411.5 49.84 C411.5 51.68 410.75 53.52 409.29 54.72 C407.84 55.91 404.62 56.56 402.76 57.02 C400.91 57.48 399.62 57.17 398.16 57.48 C396.7 57.79 395.4 58.58 394.02 58.86 C392.64 59.13 391.18 59.24 389.88 59.13 C388.58 59.03 387.35 58.8 386.2 58.21 C385.05 57.63 383.9 56.68 382.98 55.64 C382.06 54.6 380.96 53.31 380.68 51.96 C380.41 50.61 380.91 48.92 381.33 47.54 C381.74 46.16 381.79 44.66 383.17 43.68Z" fill="#787878" stroke="#787878" stroke-width="24" stroke-linejoin="round"/><path d="M383.17 43.68 C384.55 42.7 386.66 42.04 389.61 41.65 C392.55 41.27 397.55 41.04 400.83 41.38 C404.11 41.72 407.51 42.27 409.29 43.68 C411.07 45.09 411.5 48 411.5 49.84 C411.5 51.68 410.75 53.52 409.29 54.72 C407.84 55.91 404.62 56.56 402.76 57.02 C400.91 57.48 399.62 57.17 398.16 57.48 C396.7 57.79 395.4 58.58 394.02 58.86 C392.64 59.13 391.18 59.24 389.88 59.13 C388.58 59.03 387.35 58.8 386.2 58.21 C385.05 57.63 383.9 56.68 382.98 55.64 C382.06 54.6 380.96 53.31 380.68 51.96 C380.41 50.61 380.91 48.92 381.33 47.54 C381.74 46.16 381.79 44.66 383.17 43.68Z" fill="#6b6b6b" stroke="#6b6b6b" stroke-width="20" stroke-linejoin="round"/><path d="M383.17 43.68 C384.55 42.7 386.66 42.04 389.61 41.65 C392.55 41.27 397.55 41.04 400.83 41.38 C404.11 41.72 407.51 42.27 409.29 43.68 C411.07 45.09 411.5 48 411.5 49.84 C411.5 51.68 410.75 53.52 409.29 54.72 C407.84 55.91 404.62 56.56 402.76 57.02 C400.91 57.48 399.62 57.17 398.16 57.48 C396.7 57.79 395.4 58.58 394.02 58.86 C392.64 59.13 391.18 59.24 389.88 59.13 C388.58 59.03 387.35 58.8 386.2 58.21 C385.05 57.63 383.9 56.68 382.98 55.64 C382.06 54.6 380.96 53.31 380.68 51.96 C380.41 50.61 380.91 48.92 381.33 47.54 C381.74 46.16 381.79 44.66 383.17 43.68Z" fill="#636363" stroke="#636363" stroke-width="17.6" stroke-linejoin="round"/><path d="M383.17 43.68 C384.55 42.7 386.66 42.04 389.61 41.65 C392.55 41.27 397.55 41.04 400.83 41.38 C404.11 41.72 407.51 42.27 409.29 43.68 C411.07 45.09 411.5 48 411.5 49.84 C411.5 51.68 410.75 53.52 409.29 54.72 C407.84 55.91 404.62 56.56 402.76 57.02 C400.91 57.48 399.62 57.17 398.16 57.48 C396.7 57.79 395.4 58.58 394.02 58.86 C392.64 59.13 391.18 59.24 389.88 59.13 C388.58 59.03 387.35 58.8 386.2 58.21 C385.05 57.63 383.9 56.68 382.98 55.64 C382.06 54.6 380.96 53.31 380.68 51.96 C380.41 50.61 380.91 48.92 381.33 47.54 C381.74 46.16 381.79 44.66 383.17 43.68Z" fill="#5e5e5e" stroke="#5e5e5e" stroke-width="16" stroke-linejoin="round"/><path d="M383.17 43.68 C384.55 42.7 386.66 42.04 389.61 41.65 C392.55 41.27 397.55 41.04 400.83 41.38 C404.11 41.72 407.51 42.27 409.29 43.68 C411.07 45.09 411.5 48 411.5 49.84 C411.5 51.68 410.75 53.52 409.29 54.72 C407.84 55.91 404.62 56.56 402.76 57.02 C400.91 57.48 399.62 57.17 398.16 57.48 C396.7 57.79 395.4 58.58 394.02 58.86 C392.64 59.13 391.18 59.24 389.88 59.13 C388.58 59.03 387.35 58.8 386.2 58.21 C385.05 57.63 383.9 56.68 382.98 55.64 C382.06 54.6 380.96 53.31 380.68 51.96 C380.41 50.61 380.91 48.92 381.33 47.54 C381.74 46.16 381.79 44.66 383.17 43.68Z" fill="#545454" stroke="#545454" stroke-width="14" stroke-linejoin="round"/><path d="M383.17 43.68 C384.55 42.7 386.66 42.04 389.61 41.65 C392.55 41.27 397.55 41.04 400.83 41.38 C404.11 41.72 407.51 42.27 409.29 43.68 C411.07 45.09 411.5 48 411.5 49.84 C411.5 51.68 410.75 53.52 409.29 54.72 C407.84 55.91 404.62 56.56 402.76 57.02 C400.91 57.48 399.62 57.17 398.16 57.48 C396.7 57.79 395.4 58.58 394.02 58.86 C392.64 59.13 391.18 59.24 389.88 59.13 C388.58 59.03 387.35 58.8 386.2 58.21 C385.05 57.63 383.9 56.68 382.98 55.64 C382.06 54.6 380.96 53.31 380.68 51.96 C380.41 50.61 380.91 48.92 381.33 47.54 C381.74 46.16 381.79 44.66 383.17 43.68Z" fill="#4a4a4a" stroke="#4a4a4a" stroke-width="12" stroke-linejoin="round"/><path d="M383.17 43.68 C384.55 42.7 386.66 42.04 389.61 41.65 C392.55 41.27 397.55 41.04 400.83 41.38 C404.11 41.72 407.51 42.27 409.29 43.68 C411.07 45.09 411.5 48 411.5 49.84 C411.5 51.68 410.75 53.52 409.29 54.72 C407.84 55.91 404.62 56.56 402.76 57.02 C400.91 57.48 399.62 57.17 398.16 57.48 C396.7 57.79 395.4 58.58 394.02 58.86 C392.64 59.13 391.18 59.24 389.88 59.13 C388.58 59.03 387.35 58.8 386.2 58.21 C385.05 57.63 383.9 56.68 382.98 55.64 C382.06 54.6 380.96 53.31 380.68 51.96 C380.41 50.61 380.91 48.92 381.33 47.54 C381.74 46.16 381.79 44.66 383.17 43.68Z" fill="#424242" stroke="#424242" stroke-width="10.4" stroke-linejoin="round"/><path d="M383.17 43.68 C384.55 42.7 386.66 42.04 389.61 41.65 C392.55 41.27 397.55 41.04 400.83 41.38 C404.11 41.72 407.51 42.27 409.29 43.68 C411.07 45.09 411.5 48 411.5 49.84 C411.5 51.68 410.75 53.52 409.29 54.72 C407.84 55.91 404.62 56.56 402.76 57.02 C400.91 57.48 399.62 57.17 398.16 57.48 C396.7 57.79 395.4 58.58 394.02 58.86 C392.64 59.13 391.18 59.24 389.88 59.13 C388.58 59.03 387.35 58.8 386.2 58.21 C385.05 57.63 383.9 56.68 382.98 55.64 C382.06 54.6 380.96 53.31 380.68 51.96 C380.41 50.61 380.91 48.92 381.33 47.54 C381.74 46.16 381.79 44.66 383.17 43.68Z" fill="#3d3d3d" stroke="#3d3d3d" stroke-width="9.2" stroke-linejoin="round"/><path d="M383.17 43.68 C384.55 42.7 386.66 42.04 389.61 41.65 C392.55 41.27 397.55 41.04 400.83 41.38 C404.11 41.72 407.51 42.27 409.29 43.68 C411.07 45.09 411.5 48 411.5 49.84 C411.5 51.68 410.75 53.52 409.29 54.72 C407.84 55.91 404.62 56.56 402.76 57.02 C400.91 57.48 399.62 57.17 398.16 57.48 C396.7 57.79 395.4 58.58 394.02 58.86 C392.64 59.13 391.18 59.24 389.88 59.13 C388.58 59.03 387.35 58.8 386.2 58.21 C385.05 57.63 383.9 56.68 382.98 55.64 C382.06 54.6 380.96 53.31 380.68 51.96 C380.41 50.61 380.91 48.92 381.33 47.54 C381.74 46.16 381.79 44.66 383.17 43.68Z" fill="#383838" stroke="#383838" stroke-width="8" stroke-linejoin="round"/><path d="M383.17 43.68 C384.55 42.7 386.66 42.04 389.61 41.65 C392.55 41.27 397.55 41.04 400.83 41.38 C404.11 41.72 407.51 42.27 409.29 43.68 C411.07 45.09 411.5 48 411.5 49.84 C411.5 51.68 410.75 53.52 409.29 54.72 C407.84 55.91 404.62 56.56 402.76 57.02 C400.91 57.48 399.62 57.17 398.16 57.48 C396.7 57.79 395.4 58.58 394.02 58.86 C392.64 59.13 391.18 59.24 389.88 59.13 C388.58 59.03 387.35 58.8 386.2 58.21 C385.05 57.63 383.9 56.68 382.98 55.64 C382.06 54.6 380.96 53.31 380.68 51.96 C380.41 50.61 380.91 48.92 381.33 47.54 C381.74 46.16 381.79 44.66 383.17 43.68Z" fill="#343434" stroke="#343434" stroke-width="7" stroke-linejoin="round"/><path d="M383.17 43.68 C384.55 42.7 386.66 42.04 389.61 41.65 C392.55 41.27 397.55 41.04 400.83 41.38 C404.11 41.72 407.51 42.27 409.29 43.68 C411.07 45.09 411.5 48 411.5 49.84 C411.5 51.68 410.75 53.52 409.29 54.72 C407.84 55.91 404.62 56.56 402.76 57.02 C400.91 57.48 399.62 57.17 398.16 57.48 C396.7 57.79 395.4 58.58 394.02 58.86 C392.64 59.13 391.18 59.24 389.88 59.13 C388.58 59.03 387.35 58.8 386.2 58.21 C385.05 57.63 383.9 56.68 382.98 55.64 C382.06 54.6 380.96 53.31 380.68 51.96 C380.41 50.61 380.91 48.92 381.33 47.54 C381.74 46.16 381.79 44.66 383.17 43.68Z" fill="#2f2f2f" stroke="#2f2f2f" stroke-width="6" stroke-linejoin="round"/><path d="M383.17 43.68 C384.55 42.7 386.66 42.04 389.61 41.65 C392.55 41.27 397.55 41.04 400.83 41.38 C404.11 41.72 407.51 42.27 409.29 43.68 C411.07 45.09 411.5 48 411.5 49.84 C411.5 51.68 410.75 53.52 409.29 54.72 C407.84 55.91 404.62 56.56 402.76 57.02 C400.91 57.48 399.62 57.17 398.16 57.48 C396.7 57.79 395.4 58.58 394.02 58.86 C392.64 59.13 391.18 59.24 389.88 59.13 C388.58 59.03 387.35 58.8 386.2 58.21 C385.05 57.63 383.9 56.68 382.98 55.64 C382.06 54.6 380.96 53.31 380.68 51.96 C380.41 50.61 380.91 48.92 381.33 47.54 C381.74 46.16 381.79 44.66 383.17 43.68Z" fill="#292929" stroke="#292929" stroke-width="5.2" stroke-linejoin="round"/><path d="M383.17 43.68 C384.55 42.7 386.66 42.04 389.61 41.65 C392.55 41.27 397.55 41.04 400.83 41.38 C404.11 41.72 407.51 42.27 409.29 43.68 C411.07 45.09 411.5 48 411.5 49.84 C411.5 51.68 410.75 53.52 409.29 54.72 C407.84 55.91 404.62 56.56 402.76 57.02 C400.91 57.48 399.62 57.17 398.16 57.48 C396.7 57.79 395.4 58.58 394.02 58.86 C392.64 59.13 391.18 59.24 389.88 59.13 C388.58 59.03 387.35 58.8 386.2 58.21 C385.05 57.63 383.9 56.68 382.98 55.64 C382.06 54.6 380.96 53.31 380.68 51.96 C380.41 50.61 380.91 48.92 381.33 47.54 C381.74 46.16 381.79 44.66 383.17 43.68Z" fill="#252525" stroke="#252525" stroke-width="4.6" stroke-linejoin="round"/><path d="M383.17 43.68 C384.55 42.7 386.66 42.04 389.61 41.65 C392.55 41.27 397.55 41.04 400.83 41.38 C404.11 41.72 407.51 42.27 409.29 43.68 C411.07 45.09 411.5 48 411.5 49.84 C411.5 51.68 410.75 53.52 409.29 54.72 C407.84 55.91 404.62 56.56 402.76 57.02 C400.91 57.48 399.62 57.17 398.16 57.48 C396.7 57.79 395.4 58.58 394.02 58.86 C392.64 59.13 391.18 59.24 389.88 59.13 C388.58 59.03 387.35 58.8 386.2 58.21 C385.05 57.63 383.9 56.68 382.98 55.64 C382.06 54.6 380.96 53.31 380.68 51.96 C380.41 50.61 380.91 48.92 381.33 47.54 C381.74 46.16 381.79 44.66 383.17 43.68Z" fill="#222222" stroke="#222222" stroke-width="3.8" stroke-linejoin="round"/><path d="M383.17 43.68 C384.55 42.7 386.66 42.04 389.61 41.65 C392.55 41.27 397.55 41.04 400.83 41.38 C404.11 41.72 407.51 42.27 409.29 43.68 C411.07 45.09 411.5 48 411.5 49.84 C411.5 51.68 410.75 53.52 409.29 54.72 C407.84 55.91 404.62 56.56 402.76 57.02 C400.91 57.48 399.62 57.17 398.16 57.48 C396.7 57.79 395.4 58.58 394.02 58.86 C392.64 59.13 391.18 59.24 389.88 59.13 C388.58 59.03 387.35 58.8 386.2 58.21 C385.05 57.63 383.9 56.68 382.98 55.64 C382.06 54.6 380.96 53.31 380.68 51.96 C380.41 50.61 380.91 48.92 381.33 47.54 C381.74 46.16 381.79 44.66 383.17 43.68Z" fill="#202020" stroke="#202020" stroke-width="3" stroke-linejoin="round"/><path d="M383.17 43.68 C384.55 42.7 386.66 42.04 389.61 41.65 C392.55 41.27 397.55 41.04 400.83 41.38 C404.11 41.72 407.51 42.27 409.29 43.68 C411.07 45.09 411.5 48 411.5 49.84 C411.5 51.68 410.75 53.52 409.29 54.72 C407.84 55.91 404.62 56.56 402.76 57.02 C400.91 57.48 399.62 57.17 398.16 57.48 C396.7 57.79 395.4 58.58 394.02 58.86 C392.64 59.13 391.18 59.24 389.88 59.13 C388.58 59.03 387.35 58.8 386.2 58.21 C385.05 57.63 383.9 56.68 382.98 55.64 C382.06 54.6 380.96 53.31 380.68 51.96 C380.41 50.61 380.91 48.92 381.33 47.54 C381.74 46.16 381.79 44.66 383.17 43.68Z" fill="#1e1e1e" stroke="#1e1e1e" stroke-width="2" stroke-linejoin="round"/><path d="M383.17 43.68 C384.55 42.7 386.66 42.04 389.61 41.65 C392.55 41.27 397.55 41.04 400.83 41.38 C404.11 41.72 407.51 42.27 409.29 43.68 C411.07 45.09 411.5 48 411.5 49.84 C411.5 51.68 410.75 53.52 409.29 54.72 C407.84 55.91 404.62 56.56 402.76 57.02 C400.91 57.48 399.62 57.17 398.16 57.48 C396.7 57.79 395.4 58.58 394.02 58.86 C392.64 59.13 391.18 59.24 389.88 59.13 C388.58 59.03 387.35 58.8 386.2 58.21 C385.05 57.63 383.9 56.68 382.98 55.64 C382.06 54.6 380.96 53.31 380.68 51.96 C380.41 50.61 380.91 48.92 381.33 47.54 C381.74 46.16 381.79 44.66 383.17 43.68Z" fill="#1d1d1d" stroke="#1d1d1d" stroke-width="1.2" stroke-linejoin="round"/><path d="M383.17 43.68 C384.55 42.7 386.66 42.04 389.61 41.65 C392.55 41.27 397.55 41.04 400.83 41.38 C404.11 41.72 407.51 42.27 409.29 43.68 C411.07 45.09 411.5 48 411.5 49.84 C411.5 51.68 410.75 53.52 409.29 54.72 C407.84 55.91 404.62 56.56 402.76 57.02 C400.91 57.48 399.62 57.17 398.16 57.48 C396.7 57.79 395.4 58.58 394.02 58.86 C392.64 59.13 391.18 59.24 389.88 59.13 C388.58 59.03 387.35 58.8 386.2 58.21 C385.05 57.63 383.9 56.68 382.98 55.64 C382.06 54.6 380.96 53.31 380.68 51.96 C380.41 50.61 380.91 48.92 381.33 47.54 C381.74 46.16 381.79 44.66 383.17 43.68Z" fill="#1a1a1a" stroke="#1a1a1a" stroke-width="0.6" stroke-linejoin="round"/><path d="M383.17 43.68 C384.55 42.7 386.66 42.04 389.61 41.65 C392.55 41.27 397.55 41.04 400.83 41.38 C404.11 41.72 407.51 42.27 409.29 43.68 C411.07 45.09 411.5 48 411.5 49.84 C411.5 51.68 410.75 53.52 409.29 54.72 C407.84 55.91 404.62 56.56 402.76 57.02 C400.91 57.48 399.62 57.17 398.16 57.48 C396.7 57.79 395.4 58.58 394.02 58.86 C392.64 59.13 391.18 59.24 389.88 59.13 C388.58 59.03 387.35 58.8 386.2 58.21 C385.05 57.63 383.9 56.68 382.98 55.64 C382.06 54.6 380.96 53.31 380.68 51.96 C380.41 50.61 380.91 48.92 381.33 47.54 C381.74 46.16 381.79 44.66 383.17 43.68Z" fill="#010101"/></g>
<g style="mix-blend-mode:darken"><path d="M346.5 50.5 C346.75 49.77 347.58 48.88 348.5 48.6 C349.42 48.32 350.75 48.4 352 48.8 C353.25 49.2 354.67 49.97 356 51 C357.33 52.03 358.83 53.67 360 55 C361.17 56.33 362.33 57.92 363 59 C363.67 60.08 364.17 61.03 364 61.5 C363.83 61.97 362.92 62.05 362 61.8 C361.08 61.55 359.83 60.72 358.5 60 C357.17 59.28 355.5 58.28 354 57.5 C352.5 56.72 350.67 56.05 349.5 55.3 C348.33 54.55 347.5 53.8 347 53 C346.5 52.2 346.25 51.23 346.5 50.5Z" fill="#b8b8b8" stroke="#b8b8b8" stroke-width="34" stroke-linejoin="round"/><path d="M346.5 50.5 C346.75 49.77 347.58 48.88 348.5 48.6 C349.42 48.32 350.75 48.4 352 48.8 C353.25 49.2 354.67 49.97 356 51 C357.33 52.03 358.83 53.67 360 55 C361.17 56.33 362.33 57.92 363 59 C363.67 60.08 364.17 61.03 364 61.5 C363.83 61.97 362.92 62.05 362 61.8 C361.08 61.55 359.83 60.72 358.5 60 C357.17 59.28 355.5 58.28 354 57.5 C352.5 56.72 350.67 56.05 349.5 55.3 C348.33 54.55 347.5 53.8 347 53 C346.5 52.2 346.25 51.23 346.5 50.5Z" fill="#a1a1a1" stroke="#a1a1a1" stroke-width="27" stroke-linejoin="round"/><path d="M346.5 50.5 C346.75 49.77 347.58 48.88 348.5 48.6 C349.42 48.32 350.75 48.4 352 48.8 C353.25 49.2 354.67 49.97 356 51 C357.33 52.03 358.83 53.67 360 55 C361.17 56.33 362.33 57.92 363 59 C363.67 60.08 364.17 61.03 364 61.5 C363.83 61.97 362.92 62.05 362 61.8 C361.08 61.55 359.83 60.72 358.5 60 C357.17 59.28 355.5 58.28 354 57.5 C352.5 56.72 350.67 56.05 349.5 55.3 C348.33 54.55 347.5 53.8 347 53 C346.5 52.2 346.25 51.23 346.5 50.5Z" fill="#8f8f8f" stroke="#8f8f8f" stroke-width="22" stroke-linejoin="round"/><path d="M346.5 50.5 C346.75 49.77 347.58 48.88 348.5 48.6 C349.42 48.32 350.75 48.4 352 48.8 C353.25 49.2 354.67 49.97 356 51 C357.33 52.03 358.83 53.67 360 55 C361.17 56.33 362.33 57.92 363 59 C363.67 60.08 364.17 61.03 364 61.5 C363.83 61.97 362.92 62.05 362 61.8 C361.08 61.55 359.83 60.72 358.5 60 C357.17 59.28 355.5 58.28 354 57.5 C352.5 56.72 350.67 56.05 349.5 55.3 C348.33 54.55 347.5 53.8 347 53 C346.5 52.2 346.25 51.23 346.5 50.5Z" fill="#808080" stroke="#808080" stroke-width="18" stroke-linejoin="round"/><path d="M346.5 50.5 C346.75 49.77 347.58 48.88 348.5 48.6 C349.42 48.32 350.75 48.4 352 48.8 C353.25 49.2 354.67 49.97 356 51 C357.33 52.03 358.83 53.67 360 55 C361.17 56.33 362.33 57.92 363 59 C363.67 60.08 364.17 61.03 364 61.5 C363.83 61.97 362.92 62.05 362 61.8 C361.08 61.55 359.83 60.72 358.5 60 C357.17 59.28 355.5 58.28 354 57.5 C352.5 56.72 350.67 56.05 349.5 55.3 C348.33 54.55 347.5 53.8 347 53 C346.5 52.2 346.25 51.23 346.5 50.5Z" fill="#707070" stroke="#707070" stroke-width="14.8" stroke-linejoin="round"/><path d="M346.5 50.5 C346.75 49.77 347.58 48.88 348.5 48.6 C349.42 48.32 350.75 48.4 352 48.8 C353.25 49.2 354.67 49.97 356 51 C357.33 52.03 358.83 53.67 360 55 C361.17 56.33 362.33 57.92 363 59 C363.67 60.08 364.17 61.03 364 61.5 C363.83 61.97 362.92 62.05 362 61.8 C361.08 61.55 359.83 60.72 358.5 60 C357.17 59.28 355.5 58.28 354 57.5 C352.5 56.72 350.67 56.05 349.5 55.3 C348.33 54.55 347.5 53.8 347 53 C346.5 52.2 346.25 51.23 346.5 50.5Z" fill="#616161" stroke="#616161" stroke-width="12" stroke-linejoin="round"/><path d="M346.5 50.5 C346.75 49.77 347.58 48.88 348.5 48.6 C349.42 48.32 350.75 48.4 352 48.8 C353.25 49.2 354.67 49.97 356 51 C357.33 52.03 358.83 53.67 360 55 C361.17 56.33 362.33 57.92 363 59 C363.67 60.08 364.17 61.03 364 61.5 C363.83 61.97 362.92 62.05 362 61.8 C361.08 61.55 359.83 60.72 358.5 60 C357.17 59.28 355.5 58.28 354 57.5 C352.5 56.72 350.67 56.05 349.5 55.3 C348.33 54.55 347.5 53.8 347 53 C346.5 52.2 346.25 51.23 346.5 50.5Z" fill="#525252" stroke="#525252" stroke-width="9.4" stroke-linejoin="round"/><path d="M346.5 50.5 C346.75 49.77 347.58 48.88 348.5 48.6 C349.42 48.32 350.75 48.4 352 48.8 C353.25 49.2 354.67 49.97 356 51 C357.33 52.03 358.83 53.67 360 55 C361.17 56.33 362.33 57.92 363 59 C363.67 60.08 364.17 61.03 364 61.5 C363.83 61.97 362.92 62.05 362 61.8 C361.08 61.55 359.83 60.72 358.5 60 C357.17 59.28 355.5 58.28 354 57.5 C352.5 56.72 350.67 56.05 349.5 55.3 C348.33 54.55 347.5 53.8 347 53 C346.5 52.2 346.25 51.23 346.5 50.5Z" fill="#454545" stroke="#454545" stroke-width="7.2" stroke-linejoin="round"/><path d="M346.5 50.5 C346.75 49.77 347.58 48.88 348.5 48.6 C349.42 48.32 350.75 48.4 352 48.8 C353.25 49.2 354.67 49.97 356 51 C357.33 52.03 358.83 53.67 360 55 C361.17 56.33 362.33 57.92 363 59 C363.67 60.08 364.17 61.03 364 61.5 C363.83 61.97 362.92 62.05 362 61.8 C361.08 61.55 359.83 60.72 358.5 60 C357.17 59.28 355.5 58.28 354 57.5 C352.5 56.72 350.67 56.05 349.5 55.3 C348.33 54.55 347.5 53.8 347 53 C346.5 52.2 346.25 51.23 346.5 50.5Z" fill="#3b3b3b" stroke="#3b3b3b" stroke-width="5.4" stroke-linejoin="round"/><path d="M346.5 50.5 C346.75 49.77 347.58 48.88 348.5 48.6 C349.42 48.32 350.75 48.4 352 48.8 C353.25 49.2 354.67 49.97 356 51 C357.33 52.03 358.83 53.67 360 55 C361.17 56.33 362.33 57.92 363 59 C363.67 60.08 364.17 61.03 364 61.5 C363.83 61.97 362.92 62.05 362 61.8 C361.08 61.55 359.83 60.72 358.5 60 C357.17 59.28 355.5 58.28 354 57.5 C352.5 56.72 350.67 56.05 349.5 55.3 C348.33 54.55 347.5 53.8 347 53 C346.5 52.2 346.25 51.23 346.5 50.5Z" fill="#333333" stroke="#333333" stroke-width="3.8" stroke-linejoin="round"/><path d="M346.5 50.5 C346.75 49.77 347.58 48.88 348.5 48.6 C349.42 48.32 350.75 48.4 352 48.8 C353.25 49.2 354.67 49.97 356 51 C357.33 52.03 358.83 53.67 360 55 C361.17 56.33 362.33 57.92 363 59 C363.67 60.08 364.17 61.03 364 61.5 C363.83 61.97 362.92 62.05 362 61.8 C361.08 61.55 359.83 60.72 358.5 60 C357.17 59.28 355.5 58.28 354 57.5 C352.5 56.72 350.67 56.05 349.5 55.3 C348.33 54.55 347.5 53.8 347 53 C346.5 52.2 346.25 51.23 346.5 50.5Z" fill="#2b2b2b" stroke="#2b2b2b" stroke-width="2.4" stroke-linejoin="round"/><path d="M346.5 50.5 C346.75 49.77 347.58 48.88 348.5 48.6 C349.42 48.32 350.75 48.4 352 48.8 C353.25 49.2 354.67 49.97 356 51 C357.33 52.03 358.83 53.67 360 55 C361.17 56.33 362.33 57.92 363 59 C363.67 60.08 364.17 61.03 364 61.5 C363.83 61.97 362.92 62.05 362 61.8 C361.08 61.55 359.83 60.72 358.5 60 C357.17 59.28 355.5 58.28 354 57.5 C352.5 56.72 350.67 56.05 349.5 55.3 C348.33 54.55 347.5 53.8 347 53 C346.5 52.2 346.25 51.23 346.5 50.5Z" fill="#252525" stroke="#252525" stroke-width="1.2" stroke-linejoin="round"/><path d="M346.5 50.5 C346.75 49.77 347.58 48.88 348.5 48.6 C349.42 48.32 350.75 48.4 352 48.8 C353.25 49.2 354.67 49.97 356 51 C357.33 52.03 358.83 53.67 360 55 C361.17 56.33 362.33 57.92 363 59 C363.67 60.08 364.17 61.03 364 61.5 C363.83 61.97 362.92 62.05 362 61.8 C361.08 61.55 359.83 60.72 358.5 60 C357.17 59.28 355.5 58.28 354 57.5 C352.5 56.72 350.67 56.05 349.5 55.3 C348.33 54.55 347.5 53.8 347 53 C346.5 52.2 346.25 51.23 346.5 50.5Z" fill="#181818"/></g>
<ellipse cx="356" cy="54.6" rx="2.6" ry="1.6" fill="url(#src1)" style="mix-blend-mode:darken" transform="rotate(35 356 54.6)"/>
<g style="mix-blend-mode:darken"><path d="M392 58 C392.33 57.5 394.25 58.83 395 60 C395.75 61.17 396.42 63.5 396.5 65 C396.58 66.5 395.92 68.67 395.5 69 C395.08 69.33 394.42 68 394 67 C393.58 66 393.33 64.5 393 63 C392.67 61.5 391.67 58.5 392 58Z" fill="#383838" stroke="#383838" stroke-width="5" stroke-linejoin="round"/><path d="M392 58 C392.33 57.5 394.25 58.83 395 60 C395.75 61.17 396.42 63.5 396.5 65 C396.58 66.5 395.92 68.67 395.5 69 C395.08 69.33 394.42 68 394 67 C393.58 66 393.33 64.5 393 63 C392.67 61.5 391.67 58.5 392 58Z" fill="#2e2e2e" stroke="#2e2e2e" stroke-width="3.2" stroke-linejoin="round"/><path d="M392 58 C392.33 57.5 394.25 58.83 395 60 C395.75 61.17 396.42 63.5 396.5 65 C396.58 66.5 395.92 68.67 395.5 69 C395.08 69.33 394.42 68 394 67 C393.58 66 393.33 64.5 393 63 C392.67 61.5 391.67 58.5 392 58Z" fill="#262626" stroke="#262626" stroke-width="1.6" stroke-linejoin="round"/><path d="M392 58 C392.33 57.5 394.25 58.83 395 60 C395.75 61.17 396.42 63.5 396.5 65 C396.58 66.5 395.92 68.67 395.5 69 C395.08 69.33 394.42 68 394 67 C393.58 66 393.33 64.5 393 63 C392.67 61.5 391.67 58.5 392 58Z" fill="#212121"/></g>
<g style="mix-blend-mode:darken"><path d="M398 58 C398.33 57.67 400 59 400.5 60 C401 61 401.17 63.17 401 64 C400.83 64.83 399.92 65.33 399.5 65 C399.08 64.67 398.75 63.17 398.5 62 C398.25 60.83 397.67 58.33 398 58Z" fill="#383838" stroke="#383838" stroke-width="4.4" stroke-linejoin="round"/><path d="M398 58 C398.33 57.67 400 59 400.5 60 C401 61 401.17 63.17 401 64 C400.83 64.83 399.92 65.33 399.5 65 C399.08 64.67 398.75 63.17 398.5 62 C398.25 60.83 397.67 58.33 398 58Z" fill="#2e2e2e" stroke="#2e2e2e" stroke-width="2.8" stroke-linejoin="round"/><path d="M398 58 C398.33 57.67 400 59 400.5 60 C401 61 401.17 63.17 401 64 C400.83 64.83 399.92 65.33 399.5 65 C399.08 64.67 398.75 63.17 398.5 62 C398.25 60.83 397.67 58.33 398 58Z" fill="#262626" stroke="#262626" stroke-width="1.4" stroke-linejoin="round"/><path d="M398 58 C398.33 57.67 400 59 400.5 60 C401 61 401.17 63.17 401 64 C400.83 64.83 399.92 65.33 399.5 65 C399.08 64.67 398.75 63.17 398.5 62 C398.25 60.83 397.67 58.33 398 58Z" fill="#212121"/></g>
<ellipse cx="392" cy="69" rx="14" ry="11" fill="url(#src2)" style="mix-blend-mode:darken"/>
</g></g>
<g clip-path="url(#hx1)"><g filter="url(#cmapB)">
<rect x="320" y="105" width="125" height="100" fill="#666666"/>
<g filter="url(#blur2)">
<path d="M339 134 L339.5 155 L341 180" fill="none" stroke="#969696" stroke-width="3.5"/>
<path d="M344 162 L352 176 L356 190" fill="none" stroke="#858585" stroke-width="4"/>
<ellipse cx="352" cy="131" rx="10" ry="4" fill="#787878"/>
<ellipse cx="350" cy="176" rx="7" ry="6" fill="#808080"/>
<ellipse cx="372" cy="168" rx="5" ry="5" fill="#757575"/>
</g>
<g filter="url(#blur4)"><ellipse cx="406" cy="172" rx="24" ry="16" fill="#373737"/></g>
<ellipse cx="361" cy="131" rx="6" ry="3" fill="url(#src3)" style="mix-blend-mode:darken"/>
<ellipse cx="375" cy="136" rx="6" ry="3" fill="url(#src4)" style="mix-blend-mode:darken"/>
<g style="mix-blend-mode:darken"><path d="M385.23 128.72 C385.35 127.82 386.53 126.38 387.82 125.39 C389.12 124.4 391.4 123.17 393 122.8 C394.6 122.43 395.71 122.74 397.44 123.17 C399.17 123.6 401.14 124.16 403.36 125.39 C405.58 126.62 410.51 129.48 410.76 130.57 C411.01 131.65 407.06 131.99 404.84 131.9 C402.62 131.81 399.66 130.3 397.44 130.05 C395.22 129.8 393.25 130.3 391.52 130.42 C389.79 130.54 388.13 131.07 387.08 130.79 C386.03 130.51 385.11 129.62 385.23 128.72Z" fill="#666666" stroke="#666666" stroke-width="16" stroke-linejoin="round"/><path d="M385.23 128.72 C385.35 127.82 386.53 126.38 387.82 125.39 C389.12 124.4 391.4 123.17 393 122.8 C394.6 122.43 395.71 122.74 397.44 123.17 C399.17 123.6 401.14 124.16 403.36 125.39 C405.58 126.62 410.51 129.48 410.76 130.57 C411.01 131.65 407.06 131.99 404.84 131.9 C402.62 131.81 399.66 130.3 397.44 130.05 C395.22 129.8 393.25 130.3 391.52 130.42 C389.79 130.54 388.13 131.07 387.08 130.79 C386.03 130.51 385.11 129.62 385.23 128.72Z" fill="#595959" stroke="#595959" stroke-width="13" stroke-linejoin="round"/><path d="M385.23 128.72 C385.35 127.82 386.53 126.38 387.82 125.39 C389.12 124.4 391.4 123.17 393 122.8 C394.6 122.43 395.71 122.74 397.44 123.17 C399.17 123.6 401.14 124.16 403.36 125.39 C405.58 126.62 410.51 129.48 410.76 130.57 C411.01 131.65 407.06 131.99 404.84 131.9 C402.62 131.81 399.66 130.3 397.44 130.05 C395.22 129.8 393.25 130.3 391.52 130.42 C389.79 130.54 388.13 131.07 387.08 130.79 C386.03 130.51 385.11 129.62 385.23 128.72Z" fill="#4c4c4c" stroke="#4c4c4c" stroke-width="10.4" stroke-linejoin="round"/><path d="M385.23 128.72 C385.35 127.82 386.53 126.38 387.82 125.39 C389.12 124.4 391.4 123.17 393 122.8 C394.6 122.43 395.71 122.74 397.44 123.17 C399.17 123.6 401.14 124.16 403.36 125.39 C405.58 126.62 410.51 129.48 410.76 130.57 C411.01 131.65 407.06 131.99 404.84 131.9 C402.62 131.81 399.66 130.3 397.44 130.05 C395.22 129.8 393.25 130.3 391.52 130.42 C389.79 130.54 388.13 131.07 387.08 130.79 C386.03 130.51 385.11 129.62 385.23 128.72Z" fill="#424242" stroke="#424242" stroke-width="8.4" stroke-linejoin="round"/><path d="M385.23 128.72 C385.35 127.82 386.53 126.38 387.82 125.39 C389.12 124.4 391.4 123.17 393 122.8 C394.6 122.43 395.71 122.74 397.44 123.17 C399.17 123.6 401.14 124.16 403.36 125.39 C405.58 126.62 410.51 129.48 410.76 130.57 C411.01 131.65 407.06 131.99 404.84 131.9 C402.62 131.81 399.66 130.3 397.44 130.05 C395.22 129.8 393.25 130.3 391.52 130.42 C389.79 130.54 388.13 131.07 387.08 130.79 C386.03 130.51 385.11 129.62 385.23 128.72Z" fill="#393939" stroke="#393939" stroke-width="6.8" stroke-linejoin="round"/><path d="M385.23 128.72 C385.35 127.82 386.53 126.38 387.82 125.39 C389.12 124.4 391.4 123.17 393 122.8 C394.6 122.43 395.71 122.74 397.44 123.17 C399.17 123.6 401.14 124.16 403.36 125.39 C405.58 126.62 410.51 129.48 410.76 130.57 C411.01 131.65 407.06 131.99 404.84 131.9 C402.62 131.81 399.66 130.3 397.44 130.05 C395.22 129.8 393.25 130.3 391.52 130.42 C389.79 130.54 388.13 131.07 387.08 130.79 C386.03 130.51 385.11 129.62 385.23 128.72Z" fill="#323232" stroke="#323232" stroke-width="5.4" stroke-linejoin="round"/><path d="M385.23 128.72 C385.35 127.82 386.53 126.38 387.82 125.39 C389.12 124.4 391.4 123.17 393 122.8 C394.6 122.43 395.71 122.74 397.44 123.17 C399.17 123.6 401.14 124.16 403.36 125.39 C405.58 126.62 410.51 129.48 410.76 130.57 C411.01 131.65 407.06 131.99 404.84 131.9 C402.62 131.81 399.66 130.3 397.44 130.05 C395.22 129.8 393.25 130.3 391.52 130.42 C389.79 130.54 388.13 131.07 387.08 130.79 C386.03 130.51 385.11 129.62 385.23 128.72Z" fill="#292929" stroke="#292929" stroke-width="4.2" stroke-linejoin="round"/><path d="M385.23 128.72 C385.35 127.82 386.53 126.38 387.82 125.39 C389.12 124.4 391.4 123.17 393 122.8 C394.6 122.43 395.71 122.74 397.44 123.17 C399.17 123.6 401.14 124.16 403.36 125.39 C405.58 126.62 410.51 129.48 410.76 130.57 C411.01 131.65 407.06 131.99 404.84 131.9 C402.62 131.81 399.66 130.3 397.44 130.05 C395.22 129.8 393.25 130.3 391.52 130.42 C389.79 130.54 388.13 131.07 387.08 130.79 C386.03 130.51 385.11 129.62 385.23 128.72Z" fill="#212121" stroke="#212121" stroke-width="3" stroke-linejoin="round"/><path d="M385.23 128.72 C385.35 127.82 386.53 126.38 387.82 125.39 C389.12 124.4 391.4 123.17 393 122.8 C394.6 122.43 395.71 122.74 397.44 123.17 C399.17 123.6 401.14 124.16 403.36 125.39 C405.58 126.62 410.51 129.48 410.76 130.57 C411.01 131.65 407.06 131.99 404.84 131.9 C402.62 131.81 399.66 130.3 397.44 130.05 C395.22 129.8 393.25 130.3 391.52 130.42 C389.79 130.54 388.13 131.07 387.08 130.79 C386.03 130.51 385.11 129.62 385.23 128.72Z" fill="#1d1d1d" stroke="#1d1d1d" stroke-width="1.6" stroke-linejoin="round"/><path d="M385.23 128.72 C385.35 127.82 386.53 126.38 387.82 125.39 C389.12 124.4 391.4 123.17 393 122.8 C394.6 122.43 395.71 122.74 397.44 123.17 C399.17 123.6 401.14 124.16 403.36 125.39 C405.58 126.62 410.51 129.48 410.76 130.57 C411.01 131.65 407.06 131.99 404.84 131.9 C402.62 131.81 399.66 130.3 397.44 130.05 C395.22 129.8 393.25 130.3 391.52 130.42 C389.79 130.54 388.13 131.07 387.08 130.79 C386.03 130.51 385.11 129.62 385.23 128.72Z" fill="#161616" stroke="#161616" stroke-width="0.6" stroke-linejoin="round"/><path d="M385.23 128.72 C385.35 127.82 386.53 126.38 387.82 125.39 C389.12 124.4 391.4 123.17 393 122.8 C394.6 122.43 395.71 122.74 397.44 123.17 C399.17 123.6 401.14 124.16 403.36 125.39 C405.58 126.62 410.51 129.48 410.76 130.57 C411.01 131.65 407.06 131.99 404.84 131.9 C402.62 131.81 399.66 130.3 397.44 130.05 C395.22 129.8 393.25 130.3 391.52 130.42 C389.79 130.54 388.13 131.07 387.08 130.79 C386.03 130.51 385.11 129.62 385.23 128.72Z" fill="#010101"/></g>
<g style="mix-blend-mode:darken"><path d="M382.5 140.29 C384.82 139.39 390.3 138.34 394.2 138.04 C398.1 137.74 402.52 138.12 405.9 138.49 C409.27 138.87 412.72 139.32 414.45 140.29 C416.18 141.27 416.62 142.92 416.25 144.34 C415.88 145.77 413.77 147.42 412.2 148.84 C410.62 150.27 408.9 151.77 406.8 152.89 C404.7 154.02 402 154.92 399.6 155.59 C397.2 156.27 394.8 156.79 392.4 156.94 C390 157.09 387.3 157.17 385.2 156.49 C383.1 155.82 380.93 154.32 379.8 152.89 C378.68 151.47 378.38 149.52 378.45 147.94 C378.52 146.37 379.57 144.72 380.25 143.44 C380.93 142.17 380.18 141.19 382.5 140.29Z" fill="#666666" stroke="#666666" stroke-width="16" stroke-linejoin="round"/><path d="M382.5 140.29 C384.82 139.39 390.3 138.34 394.2 138.04 C398.1 137.74 402.52 138.12 405.9 138.49 C409.27 138.87 412.72 139.32 414.45 140.29 C416.18 141.27 416.62 142.92 416.25 144.34 C415.88 145.77 413.77 147.42 412.2 148.84 C410.62 150.27 408.9 151.77 406.8 152.89 C404.7 154.02 402 154.92 399.6 155.59 C397.2 156.27 394.8 156.79 392.4 156.94 C390 157.09 387.3 157.17 385.2 156.49 C383.1 155.82 380.93 154.32 379.8 152.89 C378.68 151.47 378.38 149.52 378.45 147.94 C378.52 146.37 379.57 144.72 380.25 143.44 C380.93 142.17 380.18 141.19 382.5 140.29Z" fill="#595959" stroke="#595959" stroke-width="13" stroke-linejoin="round"/><path d="M382.5 140.29 C384.82 139.39 390.3 138.34 394.2 138.04 C398.1 137.74 402.52 138.12 405.9 138.49 C409.27 138.87 412.72 139.32 414.45 140.29 C416.18 141.27 416.62 142.92 416.25 144.34 C415.88 145.77 413.77 147.42 412.2 148.84 C410.62 150.27 408.9 151.77 406.8 152.89 C404.7 154.02 402 154.92 399.6 155.59 C397.2 156.27 394.8 156.79 392.4 156.94 C390 157.09 387.3 157.17 385.2 156.49 C383.1 155.82 380.93 154.32 379.8 152.89 C378.68 151.47 378.38 149.52 378.45 147.94 C378.52 146.37 379.57 144.72 380.25 143.44 C380.93 142.17 380.18 141.19 382.5 140.29Z" fill="#4c4c4c" stroke="#4c4c4c" stroke-width="10.4" stroke-linejoin="round"/><path d="M382.5 140.29 C384.82 139.39 390.3 138.34 394.2 138.04 C398.1 137.74 402.52 138.12 405.9 138.49 C409.27 138.87 412.72 139.32 414.45 140.29 C416.18 141.27 416.62 142.92 416.25 144.34 C415.88 145.77 413.77 147.42 412.2 148.84 C410.62 150.27 408.9 151.77 406.8 152.89 C404.7 154.02 402 154.92 399.6 155.59 C397.2 156.27 394.8 156.79 392.4 156.94 C390 157.09 387.3 157.17 385.2 156.49 C383.1 155.82 380.93 154.32 379.8 152.89 C378.68 151.47 378.38 149.52 378.45 147.94 C378.52 146.37 379.57 144.72 380.25 143.44 C380.93 142.17 380.18 141.19 382.5 140.29Z" fill="#424242" stroke="#424242" stroke-width="8.4" stroke-linejoin="round"/><path d="M382.5 140.29 C384.82 139.39 390.3 138.34 394.2 138.04 C398.1 137.74 402.52 138.12 405.9 138.49 C409.27 138.87 412.72 139.32 414.45 140.29 C416.18 141.27 416.62 142.92 416.25 144.34 C415.88 145.77 413.77 147.42 412.2 148.84 C410.62 150.27 408.9 151.77 406.8 152.89 C404.7 154.02 402 154.92 399.6 155.59 C397.2 156.27 394.8 156.79 392.4 156.94 C390 157.09 387.3 157.17 385.2 156.49 C383.1 155.82 380.93 154.32 379.8 152.89 C378.68 151.47 378.38 149.52 378.45 147.94 C378.52 146.37 379.57 144.72 380.25 143.44 C380.93 142.17 380.18 141.19 382.5 140.29Z" fill="#393939" stroke="#393939" stroke-width="6.8" stroke-linejoin="round"/><path d="M382.5 140.29 C384.82 139.39 390.3 138.34 394.2 138.04 C398.1 137.74 402.52 138.12 405.9 138.49 C409.27 138.87 412.72 139.32 414.45 140.29 C416.18 141.27 416.62 142.92 416.25 144.34 C415.88 145.77 413.77 147.42 412.2 148.84 C410.62 150.27 408.9 151.77 406.8 152.89 C404.7 154.02 402 154.92 399.6 155.59 C397.2 156.27 394.8 156.79 392.4 156.94 C390 157.09 387.3 157.17 385.2 156.49 C383.1 155.82 380.93 154.32 379.8 152.89 C378.68 151.47 378.38 149.52 378.45 147.94 C378.52 146.37 379.57 144.72 380.25 143.44 C380.93 142.17 380.18 141.19 382.5 140.29Z" fill="#323232" stroke="#323232" stroke-width="5.4" stroke-linejoin="round"/><path d="M382.5 140.29 C384.82 139.39 390.3 138.34 394.2 138.04 C398.1 137.74 402.52 138.12 405.9 138.49 C409.27 138.87 412.72 139.32 414.45 140.29 C416.18 141.27 416.62 142.92 416.25 144.34 C415.88 145.77 413.77 147.42 412.2 148.84 C410.62 150.27 408.9 151.77 406.8 152.89 C404.7 154.02 402 154.92 399.6 155.59 C397.2 156.27 394.8 156.79 392.4 156.94 C390 157.09 387.3 157.17 385.2 156.49 C383.1 155.82 380.93 154.32 379.8 152.89 C378.68 151.47 378.38 149.52 378.45 147.94 C378.52 146.37 379.57 144.72 380.25 143.44 C380.93 142.17 380.18 141.19 382.5 140.29Z" fill="#292929" stroke="#292929" stroke-width="4.2" stroke-linejoin="round"/><path d="M382.5 140.29 C384.82 139.39 390.3 138.34 394.2 138.04 C398.1 137.74 402.52 138.12 405.9 138.49 C409.27 138.87 412.72 139.32 414.45 140.29 C416.18 141.27 416.62 142.92 416.25 144.34 C415.88 145.77 413.77 147.42 412.2 148.84 C410.62 150.27 408.9 151.77 406.8 152.89 C404.7 154.02 402 154.92 399.6 155.59 C397.2 156.27 394.8 156.79 392.4 156.94 C390 157.09 387.3 157.17 385.2 156.49 C383.1 155.82 380.93 154.32 379.8 152.89 C378.68 151.47 378.38 149.52 378.45 147.94 C378.52 146.37 379.57 144.72 380.25 143.44 C380.93 142.17 380.18 141.19 382.5 140.29Z" fill="#212121" stroke="#212121" stroke-width="3" stroke-linejoin="round"/><path d="M382.5 140.29 C384.82 139.39 390.3 138.34 394.2 138.04 C398.1 137.74 402.52 138.12 405.9 138.49 C409.27 138.87 412.72 139.32 414.45 140.29 C416.18 141.27 416.62 142.92 416.25 144.34 C415.88 145.77 413.77 147.42 412.2 148.84 C410.62 150.27 408.9 151.77 406.8 152.89 C404.7 154.02 402 154.92 399.6 155.59 C397.2 156.27 394.8 156.79 392.4 156.94 C390 157.09 387.3 157.17 385.2 156.49 C383.1 155.82 380.93 154.32 379.8 152.89 C378.68 151.47 378.38 149.52 378.45 147.94 C378.52 146.37 379.57 144.72 380.25 143.44 C380.93 142.17 380.18 141.19 382.5 140.29Z" fill="#1d1d1d" stroke="#1d1d1d" stroke-width="1.6" stroke-linejoin="round"/><path d="M382.5 140.29 C384.82 139.39 390.3 138.34 394.2 138.04 C398.1 137.74 402.52 138.12 405.9 138.49 C409.27 138.87 412.72 139.32 414.45 140.29 C416.18 141.27 416.62 142.92 416.25 144.34 C415.88 145.77 413.77 147.42 412.2 148.84 C410.62 150.27 408.9 151.77 406.8 152.89 C404.7 154.02 402 154.92 399.6 155.59 C397.2 156.27 394.8 156.79 392.4 156.94 C390 157.09 387.3 157.17 385.2 156.49 C383.1 155.82 380.93 154.32 379.8 152.89 C378.68 151.47 378.38 149.52 378.45 147.94 C378.52 146.37 379.57 144.72 380.25 143.44 C380.93 142.17 380.18 141.19 382.5 140.29Z" fill="#161616" stroke="#161616" stroke-width="0.6" stroke-linejoin="round"/><path d="M382.5 140.29 C384.82 139.39 390.3 138.34 394.2 138.04 C398.1 137.74 402.52 138.12 405.9 138.49 C409.27 138.87 412.72 139.32 414.45 140.29 C416.18 141.27 416.62 142.92 416.25 144.34 C415.88 145.77 413.77 147.42 412.2 148.84 C410.62 150.27 408.9 151.77 406.8 152.89 C404.7 154.02 402 154.92 399.6 155.59 C397.2 156.27 394.8 156.79 392.4 156.94 C390 157.09 387.3 157.17 385.2 156.49 C383.1 155.82 380.93 154.32 379.8 152.89 C378.68 151.47 378.38 149.52 378.45 147.94 C378.52 146.37 379.57 144.72 380.25 143.44 C380.93 142.17 380.18 141.19 382.5 140.29Z" fill="#010101"/></g>
<g style="mix-blend-mode:darken"><path d="M346.5 145.5 C347.12 144.72 348.75 143.88 350 143.8 C351.25 143.72 352.75 144.3 354 145 C355.25 145.7 356.33 147.17 357.5 148 C358.67 148.83 359.83 149.33 361 150 C362.17 150.67 363.5 151.08 364.5 152 C365.5 152.92 366.75 154.42 367 155.5 C367.25 156.58 366.75 158.17 366 158.5 C365.25 158.83 363.58 157.42 362.5 157.5 C361.42 157.58 360.5 159.17 359.5 159 C358.5 158.83 357.67 157.17 356.5 156.5 C355.33 155.83 353.83 155.75 352.5 155 C351.17 154.25 349.53 153.08 348.5 152 C347.47 150.92 346.63 149.58 346.3 148.5 C345.97 147.42 345.88 146.28 346.5 145.5Z" fill="#6e6e6e" stroke="#6e6e6e" stroke-width="19" stroke-linejoin="round"/><path d="M346.5 145.5 C347.12 144.72 348.75 143.88 350 143.8 C351.25 143.72 352.75 144.3 354 145 C355.25 145.7 356.33 147.17 357.5 148 C358.67 148.83 359.83 149.33 361 150 C362.17 150.67 363.5 151.08 364.5 152 C365.5 152.92 366.75 154.42 367 155.5 C367.25 156.58 366.75 158.17 366 158.5 C365.25 158.83 363.58 157.42 362.5 157.5 C361.42 157.58 360.5 159.17 359.5 159 C358.5 158.83 357.67 157.17 356.5 156.5 C355.33 155.83 353.83 155.75 352.5 155 C351.17 154.25 349.53 153.08 348.5 152 C347.47 150.92 346.63 149.58 346.3 148.5 C345.97 147.42 345.88 146.28 346.5 145.5Z" fill="#636363" stroke="#636363" stroke-width="15.6" stroke-linejoin="round"/><path d="M346.5 145.5 C347.12 144.72 348.75 143.88 350 143.8 C351.25 143.72 352.75 144.3 354 145 C355.25 145.7 356.33 147.17 357.5 148 C358.67 148.83 359.83 149.33 361 150 C362.17 150.67 363.5 151.08 364.5 152 C365.5 152.92 366.75 154.42 367 155.5 C367.25 156.58 366.75 158.17 366 158.5 C365.25 158.83 363.58 157.42 362.5 157.5 C361.42 157.58 360.5 159.17 359.5 159 C358.5 158.83 357.67 157.17 356.5 156.5 C355.33 155.83 353.83 155.75 352.5 155 C351.17 154.25 349.53 153.08 348.5 152 C347.47 150.92 346.63 149.58 346.3 148.5 C345.97 147.42 345.88 146.28 346.5 145.5Z" fill="#575757" stroke="#575757" stroke-width="12.6" stroke-linejoin="round"/><path d="M346.5 145.5 C347.12 144.72 348.75 143.88 350 143.8 C351.25 143.72 352.75 144.3 354 145 C355.25 145.7 356.33 147.17 357.5 148 C358.67 148.83 359.83 149.33 361 150 C362.17 150.67 363.5 151.08 364.5 152 C365.5 152.92 366.75 154.42 367 155.5 C367.25 156.58 366.75 158.17 366 158.5 C365.25 158.83 363.58 157.42 362.5 157.5 C361.42 157.58 360.5 159.17 359.5 159 C358.5 158.83 357.67 157.17 356.5 156.5 C355.33 155.83 353.83 155.75 352.5 155 C351.17 154.25 349.53 153.08 348.5 152 C347.47 150.92 346.63 149.58 346.3 148.5 C345.97 147.42 345.88 146.28 346.5 145.5Z" fill="#4a4a4a" stroke="#4a4a4a" stroke-width="10" stroke-linejoin="round"/><path d="M346.5 145.5 C347.12 144.72 348.75 143.88 350 143.8 C351.25 143.72 352.75 144.3 354 145 C355.25 145.7 356.33 147.17 357.5 148 C358.67 148.83 359.83 149.33 361 150 C362.17 150.67 363.5 151.08 364.5 152 C365.5 152.92 366.75 154.42 367 155.5 C367.25 156.58 366.75 158.17 366 158.5 C365.25 158.83 363.58 157.42 362.5 157.5 C361.42 157.58 360.5 159.17 359.5 159 C358.5 158.83 357.67 157.17 356.5 156.5 C355.33 155.83 353.83 155.75 352.5 155 C351.17 154.25 349.53 153.08 348.5 152 C347.47 150.92 346.63 149.58 346.3 148.5 C345.97 147.42 345.88 146.28 346.5 145.5Z" fill="#3e3e3e" stroke="#3e3e3e" stroke-width="7.8" stroke-linejoin="round"/><path d="M346.5 145.5 C347.12 144.72 348.75 143.88 350 143.8 C351.25 143.72 352.75 144.3 354 145 C355.25 145.7 356.33 147.17 357.5 148 C358.67 148.83 359.83 149.33 361 150 C362.17 150.67 363.5 151.08 364.5 152 C365.5 152.92 366.75 154.42 367 155.5 C367.25 156.58 366.75 158.17 366 158.5 C365.25 158.83 363.58 157.42 362.5 157.5 C361.42 157.58 360.5 159.17 359.5 159 C358.5 158.83 357.67 157.17 356.5 156.5 C355.33 155.83 353.83 155.75 352.5 155 C351.17 154.25 349.53 153.08 348.5 152 C347.47 150.92 346.63 149.58 346.3 148.5 C345.97 147.42 345.88 146.28 346.5 145.5Z" fill="#373737" stroke="#373737" stroke-width="6" stroke-linejoin="round"/><path d="M346.5 145.5 C347.12 144.72 348.75 143.88 350 143.8 C351.25 143.72 352.75 144.3 354 145 C355.25 145.7 356.33 147.17 357.5 148 C358.67 148.83 359.83 149.33 361 150 C362.17 150.67 363.5 151.08 364.5 152 C365.5 152.92 366.75 154.42 367 155.5 C367.25 156.58 366.75 158.17 366 158.5 C365.25 158.83 363.58 157.42 362.5 157.5 C361.42 157.58 360.5 159.17 359.5 159 C358.5 158.83 357.67 157.17 356.5 156.5 C355.33 155.83 353.83 155.75 352.5 155 C351.17 154.25 349.53 153.08 348.5 152 C347.47 150.92 346.63 149.58 346.3 148.5 C345.97 147.42 345.88 146.28 346.5 145.5Z" fill="#2f2f2f" stroke="#2f2f2f" stroke-width="4.4" stroke-linejoin="round"/><path d="M346.5 145.5 C347.12 144.72 348.75 143.88 350 143.8 C351.25 143.72 352.75 144.3 354 145 C355.25 145.7 356.33 147.17 357.5 148 C358.67 148.83 359.83 149.33 361 150 C362.17 150.67 363.5 151.08 364.5 152 C365.5 152.92 366.75 154.42 367 155.5 C367.25 156.58 366.75 158.17 366 158.5 C365.25 158.83 363.58 157.42 362.5 157.5 C361.42 157.58 360.5 159.17 359.5 159 C358.5 158.83 357.67 157.17 356.5 156.5 C355.33 155.83 353.83 155.75 352.5 155 C351.17 154.25 349.53 153.08 348.5 152 C347.47 150.92 346.63 149.58 346.3 148.5 C345.97 147.42 345.88 146.28 346.5 145.5Z" fill="#282828" stroke="#282828" stroke-width="2.8" stroke-linejoin="round"/><path d="M346.5 145.5 C347.12 144.72 348.75 143.88 350 143.8 C351.25 143.72 352.75 144.3 354 145 C355.25 145.7 356.33 147.17 357.5 148 C358.67 148.83 359.83 149.33 361 150 C362.17 150.67 363.5 151.08 364.5 152 C365.5 152.92 366.75 154.42 367 155.5 C367.25 156.58 366.75 158.17 366 158.5 C365.25 158.83 363.58 157.42 362.5 157.5 C361.42 157.58 360.5 159.17 359.5 159 C358.5 158.83 357.67 157.17 356.5 156.5 C355.33 155.83 353.83 155.75 352.5 155 C351.17 154.25 349.53 153.08 348.5 152 C347.47 150.92 346.63 149.58 346.3 148.5 C345.97 147.42 345.88 146.28 346.5 145.5Z" fill="#212121" stroke="#212121" stroke-width="1.2" stroke-linejoin="round"/><path d="M346.5 145.5 C347.12 144.72 348.75 143.88 350 143.8 C351.25 143.72 352.75 144.3 354 145 C355.25 145.7 356.33 147.17 357.5 148 C358.67 148.83 359.83 149.33 361 150 C362.17 150.67 363.5 151.08 364.5 152 C365.5 152.92 366.75 154.42 367 155.5 C367.25 156.58 366.75 158.17 366 158.5 C365.25 158.83 363.58 157.42 362.5 157.5 C361.42 157.58 360.5 159.17 359.5 159 C358.5 158.83 357.67 157.17 356.5 156.5 C355.33 155.83 353.83 155.75 352.5 155 C351.17 154.25 349.53 153.08 348.5 152 C347.47 150.92 346.63 149.58 346.3 148.5 C345.97 147.42 345.88 146.28 346.5 145.5Z" fill="#181818"/></g>
<ellipse cx="354.5" cy="150.5" rx="3.5" ry="2.2" fill="url(#src5)" style="mix-blend-mode:darken" transform="rotate(35 354.5 150.5)"/>
<g style="mix-blend-mode:darken" transform="rotate(75 399.4 163)"><ellipse cx="399.4" cy="163" rx="4.8" ry="5.8" fill="#373737"/><ellipse cx="399.4" cy="163" rx="4.1" ry="5.1" fill="#303030"/><ellipse cx="399.4" cy="163" rx="3.5" ry="4.5" fill="#2a2a2a"/><ellipse cx="399.4" cy="163" rx="2.9" ry="3.9" fill="#262626"/><ellipse cx="399.4" cy="163" rx="2.35" ry="3.35" fill="#212121"/><ellipse cx="399.4" cy="163" rx="2" ry="3" fill="#1a1a1a"/><ellipse cx="399.4" cy="163" rx="1.8" ry="2.8" fill="#0e0e0e"/></g>
<g style="mix-blend-mode:darken" transform="rotate(75 401.8 170.2)"><ellipse cx="401.8" cy="170.2" rx="4.8" ry="5.8" fill="#373737"/><ellipse cx="401.8" cy="170.2" rx="4.1" ry="5.1" fill="#303030"/><ellipse cx="401.8" cy="170.2" rx="3.5" ry="4.5" fill="#2a2a2a"/><ellipse cx="401.8" cy="170.2" rx="2.9" ry="3.9" fill="#262626"/><ellipse cx="401.8" cy="170.2" rx="2.35" ry="3.35" fill="#212121"/><ellipse cx="401.8" cy="170.2" rx="2" ry="3" fill="#1a1a1a"/><ellipse cx="401.8" cy="170.2" rx="1.8" ry="2.8" fill="#0e0e0e"/></g>
<g style="mix-blend-mode:darken" transform="rotate(75 402.4 176.5)"><ellipse cx="402.4" cy="176.5" rx="4.7" ry="5.5" fill="#373737"/><ellipse cx="402.4" cy="176.5" rx="4" ry="4.8" fill="#303030"/><ellipse cx="402.4" cy="176.5" rx="3.4" ry="4.2" fill="#2a2a2a"/><ellipse cx="402.4" cy="176.5" rx="2.8" ry="3.6" fill="#262626"/><ellipse cx="402.4" cy="176.5" rx="2.25" ry="3.05" fill="#212121"/><ellipse cx="402.4" cy="176.5" rx="1.9" ry="2.7" fill="#1a1a1a"/><ellipse cx="402.4" cy="176.5" rx="1.7" ry="2.5" fill="#0e0e0e"/></g>
<g style="mix-blend-mode:darken" transform="rotate(55 385.6 168.5)"><ellipse cx="385.6" cy="168.5" rx="4.8" ry="6" fill="#373737"/><ellipse cx="385.6" cy="168.5" rx="4.1" ry="5.3" fill="#303030"/><ellipse cx="385.6" cy="168.5" rx="3.5" ry="4.7" fill="#2a2a2a"/><ellipse cx="385.6" cy="168.5" rx="2.9" ry="4.1" fill="#262626"/><ellipse cx="385.6" cy="168.5" rx="2.35" ry="3.55" fill="#212121"/><ellipse cx="385.6" cy="168.5" rx="2" ry="3.2" fill="#1a1a1a"/><ellipse cx="385.6" cy="168.5" rx="1.8" ry="3" fill="#0e0e0e"/></g>
<g style="mix-blend-mode:darken" transform="rotate(50 381.2 174)"><ellipse cx="381.2" cy="174" rx="4.8" ry="5.8" fill="#373737"/><ellipse cx="381.2" cy="174" rx="4.1" ry="5.1" fill="#303030"/><ellipse cx="381.2" cy="174" rx="3.5" ry="4.5" fill="#2a2a2a"/><ellipse cx="381.2" cy="174" rx="2.9" ry="3.9" fill="#262626"/><ellipse cx="381.2" cy="174" rx="2.35" ry="3.35" fill="#212121"/><ellipse cx="381.2" cy="174" rx="2" ry="3" fill="#1a1a1a"/><ellipse cx="381.2" cy="174" rx="1.8" ry="2.8" fill="#0e0e0e"/></g>
<g style="mix-blend-mode:darken" transform="rotate(60 388 180.6)"><ellipse cx="388" cy="180.6" rx="4.8" ry="5.6" fill="#373737"/><ellipse cx="388" cy="180.6" rx="4.1" ry="4.9" fill="#303030"/><ellipse cx="388" cy="180.6" rx="3.5" ry="4.3" fill="#2a2a2a"/><ellipse cx="388" cy="180.6" rx="2.9" ry="3.7" fill="#262626"/><ellipse cx="388" cy="180.6" rx="2.35" ry="3.15" fill="#212121"/><ellipse cx="388" cy="180.6" rx="2" ry="2.8" fill="#1a1a1a"/><ellipse cx="388" cy="180.6" rx="1.8" ry="2.6" fill="#0e0e0e"/></g>
<g style="mix-blend-mode:darken" transform="rotate(40 375 183.6)"><ellipse cx="375" cy="183.6" rx="4.9" ry="5.8" fill="#373737"/><ellipse cx="375" cy="183.6" rx="4.2" ry="5.1" fill="#303030"/><ellipse cx="375" cy="183.6" rx="3.6" ry="4.5" fill="#2a2a2a"/><ellipse cx="375" cy="183.6" rx="3" ry="3.9" fill="#262626"/><ellipse cx="375" cy="183.6" rx="2.45" ry="3.35" fill="#212121"/><ellipse cx="375" cy="183.6" rx="2.1" ry="3" fill="#1a1a1a"/><ellipse cx="375" cy="183.6" rx="1.9" ry="2.8" fill="#0e0e0e"/></g>
<g style="mix-blend-mode:darken" transform="rotate(70 412 172.6)"><ellipse cx="412" cy="172.6" rx="4.7" ry="5.4" fill="#373737"/><ellipse cx="412" cy="172.6" rx="4" ry="4.7" fill="#303030"/><ellipse cx="412" cy="172.6" rx="3.4" ry="4.1" fill="#2a2a2a"/><ellipse cx="412" cy="172.6" rx="2.8" ry="3.5" fill="#262626"/><ellipse cx="412" cy="172.6" rx="2.25" ry="2.95" fill="#212121"/><ellipse cx="412" cy="172.6" rx="1.9" ry="2.6" fill="#1a1a1a"/><ellipse cx="412" cy="172.6" rx="1.7" ry="2.4" fill="#0e0e0e"/></g>
<g style="mix-blend-mode:darken" transform="rotate(70 418 173.2)"><ellipse cx="418" cy="173.2" rx="4.6" ry="5.2" fill="#373737"/><ellipse cx="418" cy="173.2" rx="3.9" ry="4.5" fill="#303030"/><ellipse cx="418" cy="173.2" rx="3.3" ry="3.9" fill="#2a2a2a"/><ellipse cx="418" cy="173.2" rx="2.7" ry="3.3" fill="#262626"/><ellipse cx="418" cy="173.2" rx="2.15" ry="2.75" fill="#212121"/><ellipse cx="418" cy="173.2" rx="1.8" ry="2.4" fill="#1a1a1a"/><ellipse cx="418" cy="173.2" rx="1.6" ry="2.2" fill="#0e0e0e"/></g>
<g style="mix-blend-mode:darken" transform="rotate(60 425.2 167.8)"><ellipse cx="425.2" cy="167.8" rx="4.7" ry="5.4" fill="#373737"/><ellipse cx="425.2" cy="167.8" rx="4" ry="4.7" fill="#303030"/><ellipse cx="425.2" cy="167.8" rx="3.4" ry="4.1" fill="#2a2a2a"/><ellipse cx="425.2" cy="167.8" rx="2.8" ry="3.5" fill="#262626"/><ellipse cx="425.2" cy="167.8" rx="2.25" ry="2.95" fill="#212121"/><ellipse cx="425.2" cy="167.8" rx="1.9" ry="2.6" fill="#1a1a1a"/><ellipse cx="425.2" cy="167.8" rx="1.7" ry="2.4" fill="#0e0e0e"/></g>
<g style="mix-blend-mode:darken" transform="rotate(80 413.2 155)"><ellipse cx="413.2" cy="155" rx="4.7" ry="5.8" fill="#373737"/><ellipse cx="413.2" cy="155" rx="4" ry="5.1" fill="#303030"/><ellipse cx="413.2" cy="155" rx="3.4" ry="4.5" fill="#2a2a2a"/><ellipse cx="413.2" cy="155" rx="2.8" ry="3.9" fill="#262626"/><ellipse cx="413.2" cy="155" rx="2.25" ry="3.35" fill="#212121"/><ellipse cx="413.2" cy="155" rx="1.9" ry="3" fill="#1a1a1a"/><ellipse cx="413.2" cy="155" rx="1.7" ry="2.8" fill="#0e0e0e"/></g>
<g style="mix-blend-mode:darken" transform="rotate(70 418.5 150)"><ellipse cx="418.5" cy="150" rx="4.6" ry="5.6" fill="#373737"/><ellipse cx="418.5" cy="150" rx="3.9" ry="4.9" fill="#303030"/><ellipse cx="418.5" cy="150" rx="3.3" ry="4.3" fill="#2a2a2a"/><ellipse cx="418.5" cy="150" rx="2.7" ry="3.7" fill="#262626"/><ellipse cx="418.5" cy="150" rx="2.15" ry="3.15" fill="#212121"/><ellipse cx="418.5" cy="150" rx="1.8" ry="2.8" fill="#1a1a1a"/><ellipse cx="418.5" cy="150" rx="1.6" ry="2.6" fill="#0e0e0e"/></g>
<g style="mix-blend-mode:darken" transform="rotate(80 412 160.5)"><ellipse cx="412" cy="160.5" rx="4.6" ry="5.4" fill="#373737"/><ellipse cx="412" cy="160.5" rx="3.9" ry="4.7" fill="#303030"/><ellipse cx="412" cy="160.5" rx="3.3" ry="4.1" fill="#2a2a2a"/><ellipse cx="412" cy="160.5" rx="2.7" ry="3.5" fill="#262626"/><ellipse cx="412" cy="160.5" rx="2.15" ry="2.95" fill="#212121"/><ellipse cx="412" cy="160.5" rx="1.8" ry="2.6" fill="#1a1a1a"/><ellipse cx="412" cy="160.5" rx="1.6" ry="2.4" fill="#0e0e0e"/></g>
<g style="mix-blend-mode:darken" transform="rotate(70 424 153)"><ellipse cx="424" cy="153" rx="4.6" ry="5.4" fill="#373737"/><ellipse cx="424" cy="153" rx="3.9" ry="4.7" fill="#303030"/><ellipse cx="424" cy="153" rx="3.3" ry="4.1" fill="#2a2a2a"/><ellipse cx="424" cy="153" rx="2.7" ry="3.5" fill="#262626"/><ellipse cx="424" cy="153" rx="2.15" ry="2.95" fill="#212121"/><ellipse cx="424" cy="153" rx="1.8" ry="2.6" fill="#1a1a1a"/><ellipse cx="424" cy="153" rx="1.6" ry="2.4" fill="#0e0e0e"/></g>
<g style="mix-blend-mode:darken" transform="rotate(60 393 165)"><ellipse cx="393" cy="165" rx="4.5" ry="5.2" fill="#373737"/><ellipse cx="393" cy="165" rx="3.8" ry="4.5" fill="#303030"/><ellipse cx="393" cy="165" rx="3.2" ry="3.9" fill="#2a2a2a"/><ellipse cx="393" cy="165" rx="2.6" ry="3.3" fill="#262626"/><ellipse cx="393" cy="165" rx="2.05" ry="2.75" fill="#212121"/><ellipse cx="393" cy="165" rx="1.7" ry="2.4" fill="#1a1a1a"/><ellipse cx="393" cy="165" rx="1.5" ry="2.2" fill="#0e0e0e"/></g>
<g style="mix-blend-mode:darken" transform="rotate(60 394 186)"><ellipse cx="394" cy="186" rx="4.5" ry="5.2" fill="#373737"/><ellipse cx="394" cy="186" rx="3.8" ry="4.5" fill="#303030"/><ellipse cx="394" cy="186" rx="3.2" ry="3.9" fill="#2a2a2a"/><ellipse cx="394" cy="186" rx="2.6" ry="3.3" fill="#262626"/><ellipse cx="394" cy="186" rx="2.05" ry="2.75" fill="#212121"/><ellipse cx="394" cy="186" rx="1.7" ry="2.4" fill="#1a1a1a"/><ellipse cx="394" cy="186" rx="1.5" ry="2.2" fill="#0e0e0e"/></g>
<g style="mix-blend-mode:darken" transform="rotate(60 408 180.5)"><ellipse cx="408" cy="180.5" rx="4.4" ry="5" fill="#373737"/><ellipse cx="408" cy="180.5" rx="3.7" ry="4.3" fill="#303030"/><ellipse cx="408" cy="180.5" rx="3.1" ry="3.7" fill="#2a2a2a"/><ellipse cx="408" cy="180.5" rx="2.5" ry="3.1" fill="#262626"/><ellipse cx="408" cy="180.5" rx="1.95" ry="2.55" fill="#212121"/><ellipse cx="408" cy="180.5" rx="1.6" ry="2.2" fill="#1a1a1a"/><ellipse cx="408" cy="180.5" rx="1.4" ry="2" fill="#0e0e0e"/></g>
<g style="mix-blend-mode:darken" transform="rotate(40 383 190)"><ellipse cx="383" cy="190" rx="4.4" ry="4.8" fill="#373737"/><ellipse cx="383" cy="190" rx="3.7" ry="4.1" fill="#303030"/><ellipse cx="383" cy="190" rx="3.1" ry="3.5" fill="#2a2a2a"/><ellipse cx="383" cy="190" rx="2.5" ry="2.9" fill="#262626"/><ellipse cx="383" cy="190" rx="1.95" ry="2.35" fill="#212121"/><ellipse cx="383" cy="190" rx="1.6" ry="2" fill="#1a1a1a"/><ellipse cx="383" cy="190" rx="1.4" ry="1.8" fill="#0e0e0e"/></g>
<g style="mix-blend-mode:darken" transform="rotate(70 420 160)"><ellipse cx="420" cy="160" rx="4.4" ry="5.2" fill="#373737"/><ellipse cx="420" cy="160" rx="3.7" ry="4.5" fill="#303030"/><ellipse cx="420" cy="160" rx="3.1" ry="3.9" fill="#2a2a2a"/><ellipse cx="420" cy="160" rx="2.5" ry="3.3" fill="#262626"/><ellipse cx="420" cy="160" rx="1.95" ry="2.75" fill="#212121"/><ellipse cx="420" cy="160" rx="1.6" ry="2.4" fill="#1a1a1a"/><ellipse cx="420" cy="160" rx="1.4" ry="2.2" fill="#0e0e0e"/></g>
</g></g>
<g clip-path="url(#hx2)"><g filter="url(#cmapB)">
<rect x="440" y="15" width="110" height="90" fill="url(#rgF1)"/>
<ellipse cx="493.5" cy="59.5" rx="8" ry="4" fill="url(#src6)" style="mix-blend-mode:darken"/>
<ellipse cx="470" cy="60" rx="15" ry="6" fill="url(#src7)" style="mix-blend-mode:darken" transform="rotate(33 470 60)"/>
<ellipse cx="512" cy="63" rx="15" ry="6" fill="url(#src8)" style="mix-blend-mode:darken" transform="rotate(-22 512 63)"/>
<ellipse cx="456" cy="74" rx="12" ry="8" fill="url(#src9)" style="mix-blend-mode:darken"/>
<ellipse cx="530" cy="80" rx="10" ry="10" fill="url(#src10)" style="mix-blend-mode:darken"/>
<ellipse cx="480" cy="82" rx="14" ry="14" fill="url(#src11)" style="mix-blend-mode:darken"/>
<ellipse cx="503.5" cy="78" rx="14" ry="13" fill="url(#src12)" style="mix-blend-mode:darken"/>
<g style="mix-blend-mode:darken"><path d="M492.5 83.5 C493.57 82.35 495.95 81.5 497.4 81.5 C498.85 81.5 500.3 82.17 501.2 83.5 C502.1 84.83 502.8 87.6 502.8 89.5 C502.8 91.4 502.28 93.73 501.2 94.9 C500.12 96.07 497.87 96.5 496.3 96.5 C494.73 96.5 492.68 96.25 491.8 94.9 C490.92 93.55 490.88 90.3 491 88.4 C491.12 86.5 491.43 84.65 492.5 83.5Z" fill="#5c5c5c" stroke="#5c5c5c" stroke-width="16" stroke-linejoin="round"/><path d="M492.5 83.5 C493.57 82.35 495.95 81.5 497.4 81.5 C498.85 81.5 500.3 82.17 501.2 83.5 C502.1 84.83 502.8 87.6 502.8 89.5 C502.8 91.4 502.28 93.73 501.2 94.9 C500.12 96.07 497.87 96.5 496.3 96.5 C494.73 96.5 492.68 96.25 491.8 94.9 C490.92 93.55 490.88 90.3 491 88.4 C491.12 86.5 491.43 84.65 492.5 83.5Z" fill="#525252" stroke="#525252" stroke-width="13" stroke-linejoin="round"/><path d="M492.5 83.5 C493.57 82.35 495.95 81.5 497.4 81.5 C498.85 81.5 500.3 82.17 501.2 83.5 C502.1 84.83 502.8 87.6 502.8 89.5 C502.8 91.4 502.28 93.73 501.2 94.9 C500.12 96.07 497.87 96.5 496.3 96.5 C494.73 96.5 492.68 96.25 491.8 94.9 C490.92 93.55 490.88 90.3 491 88.4 C491.12 86.5 491.43 84.65 492.5 83.5Z" fill="#474747" stroke="#474747" stroke-width="10.4" stroke-linejoin="round"/><path d="M492.5 83.5 C493.57 82.35 495.95 81.5 497.4 81.5 C498.85 81.5 500.3 82.17 501.2 83.5 C502.1 84.83 502.8 87.6 502.8 89.5 C502.8 91.4 502.28 93.73 501.2 94.9 C500.12 96.07 497.87 96.5 496.3 96.5 C494.73 96.5 492.68 96.25 491.8 94.9 C490.92 93.55 490.88 90.3 491 88.4 C491.12 86.5 491.43 84.65 492.5 83.5Z" fill="#3d3d3d" stroke="#3d3d3d" stroke-width="8.2" stroke-linejoin="round"/><path d="M492.5 83.5 C493.57 82.35 495.95 81.5 497.4 81.5 C498.85 81.5 500.3 82.17 501.2 83.5 C502.1 84.83 502.8 87.6 502.8 89.5 C502.8 91.4 502.28 93.73 501.2 94.9 C500.12 96.07 497.87 96.5 496.3 96.5 C494.73 96.5 492.68 96.25 491.8 94.9 C490.92 93.55 490.88 90.3 491 88.4 C491.12 86.5 491.43 84.65 492.5 83.5Z" fill="#343434" stroke="#343434" stroke-width="6.2" stroke-linejoin="round"/><path d="M492.5 83.5 C493.57 82.35 495.95 81.5 497.4 81.5 C498.85 81.5 500.3 82.17 501.2 83.5 C502.1 84.83 502.8 87.6 502.8 89.5 C502.8 91.4 502.28 93.73 501.2 94.9 C500.12 96.07 497.87 96.5 496.3 96.5 C494.73 96.5 492.68 96.25 491.8 94.9 C490.92 93.55 490.88 90.3 491 88.4 C491.12 86.5 491.43 84.65 492.5 83.5Z" fill="#2d2d2d" stroke="#2d2d2d" stroke-width="4.6" stroke-linejoin="round"/><path d="M492.5 83.5 C493.57 82.35 495.95 81.5 497.4 81.5 C498.85 81.5 500.3 82.17 501.2 83.5 C502.1 84.83 502.8 87.6 502.8 89.5 C502.8 91.4 502.28 93.73 501.2 94.9 C500.12 96.07 497.87 96.5 496.3 96.5 C494.73 96.5 492.68 96.25 491.8 94.9 C490.92 93.55 490.88 90.3 491 88.4 C491.12 86.5 491.43 84.65 492.5 83.5Z" fill="#252525" stroke="#252525" stroke-width="3" stroke-linejoin="round"/><path d="M492.5 83.5 C493.57 82.35 495.95 81.5 497.4 81.5 C498.85 81.5 500.3 82.17 501.2 83.5 C502.1 84.83 502.8 87.6 502.8 89.5 C502.8 91.4 502.28 93.73 501.2 94.9 C500.12 96.07 497.87 96.5 496.3 96.5 C494.73 96.5 492.68 96.25 491.8 94.9 C490.92 93.55 490.88 90.3 491 88.4 C491.12 86.5 491.43 84.65 492.5 83.5Z" fill="#1d1d1d" stroke="#1d1d1d" stroke-width="1.4" stroke-linejoin="round"/><path d="M492.5 83.5 C493.57 82.35 495.95 81.5 497.4 81.5 C498.85 81.5 500.3 82.17 501.2 83.5 C502.1 84.83 502.8 87.6 502.8 89.5 C502.8 91.4 502.28 93.73 501.2 94.9 C500.12 96.07 497.87 96.5 496.3 96.5 C494.73 96.5 492.68 96.25 491.8 94.9 C490.92 93.55 490.88 90.3 491 88.4 C491.12 86.5 491.43 84.65 492.5 83.5Z" fill="#171717"/></g>
<ellipse cx="497.5" cy="91" rx="3" ry="4.5" fill="url(#src13)" style="mix-blend-mode:darken"/>
</g></g>
<g clip-path="url(#hx3)">
<rect x="440" y="105" width="110" height="95" fill="#2a80d0"/>
<g transform="matrix(-0.53 0.2 0.41 0.28 501.5 116)"><rect x="0" y="0" width="100" height="100" filter="url(#turbT)"/></g>
<g transform="matrix(0.41 0.28 0 0.29 449 136.2)"><rect x="0" y="0" width="100" height="100" filter="url(#turbL)"/></g>
<g transform="matrix(0.53 -0.2 0 0.29 490.5 164.2)"><rect x="0" y="0" width="100" height="100" filter="url(#turbR)"/></g>
<g filter="url(#blur2)"><ellipse cx="497" cy="120.5" rx="12" ry="3.4" transform="rotate(-12 497 120.5)" fill="#f09a28"/></g>
<g filter="url(#blur2)"><ellipse cx="498" cy="119.5" rx="7" ry="1.8" transform="rotate(-12 498 119.5)" fill="#f8c838"/></g>
</g>
<g transform="translate(318.8 59.85) rotate(-90)"><text x="0" y="0" font-size="14.5" text-anchor="middle" fill="#111" font-family="'Liberation Sans', sans-serif" textLength="67.7" lengthAdjust="spacingAndGlyphs" >to lacunae</text></g>
<g transform="translate(318.6 161.25) rotate(-90)"><text x="0" y="0" font-size="14.5" text-anchor="middle" fill="#111" font-family="'Liberation Sans', sans-serif" textLength="69.5" lengthAdjust="spacingAndGlyphs" >to network</text></g>
<text x="360.6" y="215.6" font-size="14.5" text-anchor="start" fill="#111" font-family="'Liberation Sans', sans-serif" textLength="42.6" lengthAdjust="spacingAndGlyphs" >woven</text>
<text x="455.5" y="217.6" font-size="14.5" text-anchor="start" fill="#111" font-family="'Liberation Sans', sans-serif" textLength="81.2" lengthAdjust="spacingAndGlyphs" >fibrolamellar</text>
<rect x="572.3" y="24.8" width="12" height="154.8" fill="url(#cbg)" stroke="#bbb" stroke-width="0.6"/>
<line x1="582.3" y1="179.6" x2="584.3" y2="179.6" stroke="#666" stroke-width="0.6"/>
<text x="587.8" y="183.4" font-size="10.5" text-anchor="start" fill="#222" font-family="'Liberation Sans', sans-serif" >0</text>
<line x1="582.3" y1="148.64" x2="584.3" y2="148.64" stroke="#666" stroke-width="0.6"/>
<text x="587.8" y="152.44" font-size="10.5" text-anchor="start" fill="#222" font-family="'Liberation Sans', sans-serif" >2</text>
<line x1="582.3" y1="117.68" x2="584.3" y2="117.68" stroke="#666" stroke-width="0.6"/>
<text x="587.8" y="121.48" font-size="10.5" text-anchor="start" fill="#222" font-family="'Liberation Sans', sans-serif" >4</text>
<line x1="582.3" y1="86.72" x2="584.3" y2="86.72" stroke="#666" stroke-width="0.6"/>
<text x="587.8" y="90.52" font-size="10.5" text-anchor="start" fill="#222" font-family="'Liberation Sans', sans-serif" >6</text>
<line x1="582.3" y1="55.76" x2="584.3" y2="55.76" stroke="#666" stroke-width="0.6"/>
<text x="587.8" y="59.56" font-size="10.5" text-anchor="start" fill="#222" font-family="'Liberation Sans', sans-serif" >8</text>
<line x1="582.3" y1="24.8" x2="584.3" y2="24.8" stroke="#666" stroke-width="0.6"/>
<text x="587.8" y="28.6" font-size="10.5" text-anchor="start" fill="#222" font-family="'Liberation Sans', sans-serif" >10</text>
<text x="570.5" y="201.8" font-size="13" text-anchor="start" fill="#111" font-family="'Liberation Sans', sans-serif" textLength="17" lengthAdjust="spacingAndGlyphs" >μm</text>
<g fill="none" stroke="#223f84" stroke-width="1.75" stroke-linecap="butt" stroke-linejoin="round">
<path d="M447.7 282.6 C448.92 282.63 452.95 282.82 455 282.8 C457.05 282.78 458.33 282.83 460 282.5 C461.67 282.17 463.05 281.8 465 280.8 C466.95 279.8 469.48 277 471.7 276.5 C473.92 276 476.08 277.17 478.3 277.8 C480.52 278.43 483.13 279.27 485 280.3 C486.87 281.33 488.75 283.38 489.5 284"/>
<path d="M490.8 285 C491.08 283.88 490.97 280.38 492.5 278.3 C494.03 276.22 497.92 274.3 500 272.5 C502.08 270.7 503.33 269.87 505 267.5 C506.67 265.13 508.75 260.8 510 258.3 C511.25 255.8 511.53 253.75 512.5 252.5 C513.47 251.25 515.25 251.08 515.8 250.8"/>
<path d="M442.6 309.3 C444.08 308.83 449.05 307.73 451.5 306.5 C453.95 305.27 455.8 303.23 457.3 301.9 C458.8 300.57 458.38 299.32 460.5 298.5 C462.62 297.68 466.75 297.55 470 297 C473.25 296.45 477.08 295.65 480 295.2 C482.92 294.75 486.25 294.45 487.5 294.3"/>
<path d="M448.8 324.7 C450.22 324.1 453.97 322.4 457.3 321.1 C460.63 319.8 465.28 317.25 468.8 316.9 C472.32 316.55 475.52 318.45 478.4 319 C481.28 319.55 483.87 320.13 486.1 320.2 C488.33 320.27 489.82 319.35 491.8 319.4 C493.78 319.45 496.97 320.32 498 320.5"/>
<path d="M485.3 320.8 C484.63 322.1 484.05 326.63 481.3 328.6 C478.55 330.57 472.17 331.28 468.8 332.6 C465.43 333.92 463.47 335.38 461.1 336.5 C458.73 337.62 455.68 338.83 454.6 339.3"/>
<path d="M504.5 334.8 C503.35 336.35 500.35 342.07 497.6 344.1 C494.85 346.13 491.2 345.72 488 347 C484.8 348.28 480.8 350.03 478.4 351.8 C476 353.57 475.17 355.68 473.6 357.6 C472.03 359.52 469.77 362.35 469 363.3"/>
<path d="M515.2 348.6 C514.98 350 514.93 354.63 513.9 357 C512.87 359.37 511.72 361.07 509 362.8 C506.28 364.53 501.38 365.77 497.6 367.4 C493.82 369.03 488.18 371.73 486.3 372.6"/>
<path d="M523.8 350.8 C524.87 351.33 527.68 352.93 530.2 354 C532.72 355.07 536.37 356.67 538.9 357.2 C541.43 357.73 543.25 357.73 545.4 357.2 C547.55 356.67 548.93 355.25 551.8 354 C554.67 352.75 559.35 350.23 562.6 349.7 C565.85 349.17 567.87 350.55 571.3 350.8 C574.73 351.05 581.22 351.13 583.2 351.2"/>
<path d="M508.3 295.5 C509.7 294.3 514.2 290.88 516.7 288.3 C519.2 285.72 521.5 282.5 523.3 280 C525.1 277.5 526.1 275.8 527.5 273.3 C528.9 270.8 529.9 267.22 531.7 265 C533.5 262.78 536.37 261.67 538.3 260 C540.23 258.33 542.18 256.47 543.3 255 C544.42 253.53 544.72 251.83 545 251.2"/>
<path d="M527.4 275.6 C528.38 275.43 531.4 275.42 533.3 274.6 C535.2 273.78 536.28 271.67 538.8 270.7 C541.32 269.73 546 270.08 548.4 268.8 C550.8 267.52 551.77 264.92 553.2 263 C554.63 261.08 555.57 258.32 557 257.3 C558.43 256.28 560.2 256.75 561.8 256.9 C563.4 257.05 565.8 257.98 566.6 258.2"/>
<path d="M518 316.3 C519.33 316.23 521.78 316 526 315.9 C530.22 315.8 539.75 316.07 543.3 315.7 C546.85 315.33 546.3 314.82 547.3 313.7 C548.3 312.58 548.63 310.45 549.3 309 C549.97 307.55 550.07 306.12 551.3 305 C552.53 303.88 554.25 303.3 556.7 302.3 C559.15 301.3 563.33 300 566 299 C568.67 298 570.82 297.13 572.7 296.3 C574.58 295.47 576.53 294.38 577.3 294"/>
</g>
<defs><linearGradient id="cellg" gradientUnits="userSpaceOnUse" x1="484" y1="284" x2="524" y2="350"><stop offset="0" stop-color="#6e6e6e"/><stop offset="0.22" stop-color="#3a3a3a"/><stop offset="0.45" stop-color="#0c0c0c"/><stop offset="0.85" stop-color="#141414"/><stop offset="1" stop-color="#505050"/></linearGradient><clipPath id="cellclip"><path d="M484.2 283.8 C485.22 283.15 487.53 282.07 489.5 282.6 C491.47 283.13 493.83 285.58 496 287 C498.17 288.42 500.48 289.48 502.5 291.1 C504.52 292.72 506.23 294.2 508.1 296.7 C509.97 299.2 512.3 303.28 513.7 306.1 C515.1 308.92 515.4 311.1 516.5 313.6 C517.6 316.1 519.05 318.3 520.3 321.1 C521.55 323.9 523.23 327.6 524 330.4 C524.77 333.2 524.87 335.47 524.9 337.9 C524.93 340.33 524.67 342.95 524.2 345 C523.73 347.05 523.22 349.78 522.1 350.2 C520.98 350.62 518.93 348.62 517.5 347.5 C516.07 346.38 514.67 344.78 513.5 343.5 C512.33 342.22 511.72 341.98 510.5 339.8 C509.28 337.62 507.53 333.52 506.2 330.4 C504.87 327.28 504.05 324.53 502.5 321.1 C500.95 317.67 498.57 312.98 496.9 309.8 C495.23 306.62 493.75 304.18 492.5 302 C491.25 299.82 490.65 298.62 489.4 296.7 C488.15 294.78 486 292.2 485 290.5 C484 288.8 483.53 287.62 483.4 286.5 C483.27 285.38 483.18 284.45 484.2 283.8Z"/></clipPath><filter id="cellrough" x="-20%" y="-20%" width="140%" height="140%"><feTurbulence type="turbulence" baseFrequency="0.45" numOctaves="2" seed="5" result="n"/><feDisplacementMap in="SourceGraphic" in2="n" scale="2.6" xChannelSelector="R" yChannelSelector="G" result="d"/><feGaussianBlur in="d" stdDeviation="0.35"/></filter><filter id="cellhb" x="-50%" y="-50%" width="200%" height="200%"><feGaussianBlur stdDeviation="2.2"/></filter></defs>
<g filter="url(#cellrough)">
<path d="M484.2 283.8 C485.22 283.15 487.53 282.07 489.5 282.6 C491.47 283.13 493.83 285.58 496 287 C498.17 288.42 500.48 289.48 502.5 291.1 C504.52 292.72 506.23 294.2 508.1 296.7 C509.97 299.2 512.3 303.28 513.7 306.1 C515.1 308.92 515.4 311.1 516.5 313.6 C517.6 316.1 519.05 318.3 520.3 321.1 C521.55 323.9 523.23 327.6 524 330.4 C524.77 333.2 524.87 335.47 524.9 337.9 C524.93 340.33 524.67 342.95 524.2 345 C523.73 347.05 523.22 349.78 522.1 350.2 C520.98 350.62 518.93 348.62 517.5 347.5 C516.07 346.38 514.67 344.78 513.5 343.5 C512.33 342.22 511.72 341.98 510.5 339.8 C509.28 337.62 507.53 333.52 506.2 330.4 C504.87 327.28 504.05 324.53 502.5 321.1 C500.95 317.67 498.57 312.98 496.9 309.8 C495.23 306.62 493.75 304.18 492.5 302 C491.25 299.82 490.65 298.62 489.4 296.7 C488.15 294.78 486 292.2 485 290.5 C484 288.8 483.53 287.62 483.4 286.5 C483.27 285.38 483.18 284.45 484.2 283.8Z" fill="url(#cellg)"/>
<g clip-path="url(#cellclip)"><ellipse cx="511" cy="304" rx="3.2" ry="10" transform="rotate(-28 511 304)" fill="#9a9a9a" opacity="0.55" filter="url(#cellhb)"/><ellipse cx="522" cy="334" rx="2.5" ry="7" transform="rotate(-15 522 334)" fill="#888" opacity="0.45" filter="url(#cellhb)"/></g>
</g>
<path d="M522.5 313.7 C525.97 313.63 539.38 313.87 543.3 313.3 C547.22 312.73 545.33 311.68 546 310.3 C546.67 308.92 546.63 306.43 547.3 305 C547.97 303.57 548.43 302.7 550 301.7 C551.57 300.7 554.03 300 556.7 299 C559.37 298 563.33 296.58 566 295.7 C568.67 294.82 571.12 294.18 572.7 293.7 C574.28 293.22 575.03 292.95 575.5 292.8" fill="none" stroke="#ff1a1a" stroke-width="2" stroke-dasharray="1.6 1.4"/>
<path d="M523.8 309.4 L517.0 314.2 L524.4 317.4" fill="none" stroke="#ff1a1a" stroke-width="2.5" stroke-linejoin="miter"/>
<path d="M584.7 318.6 L577.6 302" stroke="#12b04c" stroke-width="1.7"/>
<path d="M575.8 297.2 L573.0 304.2 L580.2 301.4 Z" fill="#12b04c"/>
<path d="M582.4 322.1 L526.5 336.6 M531.5 333.3 L526.2 336.7 L531.6 339" fill="none" stroke="#777" stroke-width="1"/>
<text x="558.6" y="284.4" font-size="13.5" text-anchor="start" fill="#ff1010" font-family="'Liberation Serif', serif" font-weight="bold">d</text>
<text x="566.2" y="287.3" font-size="10" text-anchor="start" fill="#ff1010" font-family="'Liberation Serif', serif" textLength="12.5" lengthAdjust="spacingAndGlyphs" font-weight="bold" font-style="italic">net</text>
<text x="556.9" y="315.2" font-size="13.5" text-anchor="start" fill="#10a050" font-family="'Liberation Serif', serif" font-weight="bold">d</text>
<text x="563.2" y="317.8" font-size="10" text-anchor="start" fill="#10a050" font-family="'Liberation Serif', serif" textLength="13.4" lengthAdjust="spacingAndGlyphs" font-weight="bold" font-style="italic">LC</text>
<text x="551" y="342.7" font-size="13.5" text-anchor="start" fill="#666" font-family="'Liberation Serif', serif" >d</text>
<text x="558.6" y="345.2" font-size="10" text-anchor="start" fill="#666" font-family="'Liberation Serif', serif" font-style="italic">L</text>
<text x="1.2" y="15.9" font-size="23.2" text-anchor="start" fill="#000" font-family="'Liberation Sans', sans-serif" textLength="11.9" lengthAdjust="spacingAndGlyphs" stroke="#fff" stroke-width="0.45">a</text>
<text x="284.2" y="18.2" font-size="22.8" text-anchor="start" fill="#000" font-family="'Liberation Sans', sans-serif" stroke="#fff" stroke-width="0.3">b</text>
<text x="1.9" y="250" font-size="22.5" text-anchor="start" fill="#000" font-family="'Liberation Sans', sans-serif" stroke="#000" stroke-width="0.3">c</text>
<text x="225.6" y="252.3" font-size="22.8" text-anchor="start" fill="#000" font-family="'Liberation Sans', sans-serif" stroke="#fff" stroke-width="0.3">d</text>
</g>
</svg></body></html>
